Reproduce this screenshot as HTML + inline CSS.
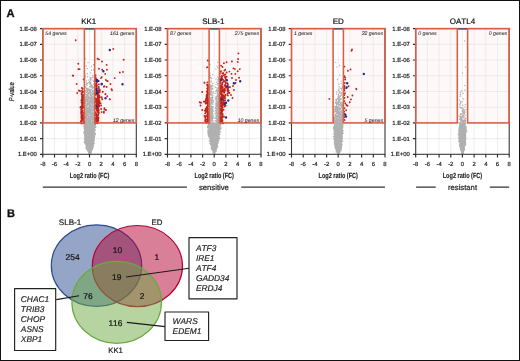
<!DOCTYPE html>
<html><head><meta charset="utf-8"><style>
html,body{margin:0;padding:0;background:#fff;}
body{width:520px;height:361px;overflow:hidden;}
svg{display:block;font-family:"Liberation Sans", sans-serif;will-change:transform;text-rendering:geometricPrecision;font-kerning:none;}
</style></head><body>
<svg width="520" height="361" viewBox="0 0 520 361">
<rect x="0" y="0" width="520" height="361" fill="#fff"/>
<defs></defs>
<rect x="42.8" y="28.6" width="41.6" height="94.3" fill="#fef9f8"/>
<rect x="94.7" y="28.6" width="41.6" height="94.3" fill="#fef9f8"/>
<path d="M54.5 28.6V154.3M66.2 28.6V154.3M77.9 28.6V154.3M89.5 28.6V154.3M101.2 28.6V154.3M112.9 28.6V154.3M124.6 28.6V154.3M42.8 138.6H136.3M42.8 122.9H136.3M42.8 107.2H136.3M42.8 91.5H136.3M42.8 75.7H136.3M42.8 60H136.3M42.8 44.3H136.3" stroke="#e6e6e6" stroke-width="0.7" fill="none"/>
<path d="M83.8 122.9L83.9 123.9L84 124.9L84 125.9L84.1 126.9L84.2 127.9L84.2 128.9L84.3 129.9L84.3 130.9L84.4 131.9L84.5 132.9L84.5 133.9L84.6 134.9L84.7 135.9L84.7 136.9L84.8 137.9L84.8 138.9L84.9 139.9L85 140.9L85 141.9L85.2 142.9L85.4 143.9L85.6 144.9L85.8 145.9L86 146.9L86.2 147.9L86.6 148.9L86.9 149.9L87.3 150.9L87.6 151.9L88.3 152.9L88.8 153.5L90.3 153.5L90.8 152.9L91.5 151.9L91.8 150.9L92.2 149.9L92.5 148.9L92.9 147.9L93.1 146.9L93.3 145.9L93.5 144.9L93.7 143.9L93.9 142.9L94.1 141.9L94.1 140.9L94.2 139.9L94.3 138.9L94.3 137.9L94.4 136.9L94.4 135.9L94.5 134.9L94.6 133.9L94.6 132.9L94.7 131.9L94.8 130.9L94.8 129.9L94.9 128.9L94.9 127.9L95 126.9L95.1 125.9L95.1 124.9L95.2 123.9L95.3 122.9 Z" fill="#b0b0b0"/>
<path d="M90.2 123.5h0M89.2 123.3h0M90.5 123h0M89.7 123.3h0M92.9 123h0M87.3 123h0M93.1 123.4h0M84.3 123.6h0M94.9 123.4h0M90.9 123h0M89.9 123.6h0M86 123.8h0M84.2 123.9h0M88.9 124.2h0M89.8 124h0M89.5 124.1h0M89.1 123.8h0M95.2 124.3h0M93.4 124.1h0M87.5 123.8h0M87.2 123.6h0M88.4 124.9h0M88.3 125h0M93.5 124.3h0M86.3 124.9h0M89.2 125h0M88.4 124.4h0M91 124.8h0M87 124.4h0M87.7 125h0M92.5 124.4h0M85.1 125h0M92.9 125.1h0M90.2 125.3h0M86.1 125.5h0M85.4 125.5h0M85.3 125.3h0M86.3 125.2h0M94.8 125.6h0M87.4 125.6h0M86.3 125.3h0M91.1 125.8h0M95 125.8h0M86.9 126.2h0M87.7 125.9h0M84.8 125.8h0M90.5 125.9h0M90.7 126h0M89 126.4h0M89.4 126.1h0M93.6 125.8h0M94 127h0M86.8 126.5h0M92.2 127.1h0M86.2 127.1h0M93.7 126.8h0M88.7 126.5h0M84.5 127.1h0M86.7 126.9h0M86.9 127h0M90.6 126.6h0M91.9 127.1h0M86.6 127.5h0M93.4 127.5h0M87.2 127.7h0M86.3 127.1h0M87 127.4h0M84.8 127.2h0M88.1 127.5h0M85.5 127.4h0M93.8 127.8h0M91.6 128.2h0M85.7 127.8h0M84.3 128.4h0M91.7 128.5h0M84.4 128.2h0M89.4 128.3h0M87.6 128.5h0M85 128.2h0M92.1 128.4h0M92.1 128.3h0M94 128.7h0M91.5 129.1h0M93.5 128.8h0M92.7 129.1h0M90.3 128.9h0M88.3 128.9h0M90.7 128.6h0M91 129.2h0M93.6 129h0M92 129.6h0M88.9 129.8h0M85.1 129.7h0M84.6 129.6h0M89.3 129.4h0M91.7 129.5h0M90.8 129.8h0M87 129.2h0M87.4 129.7h0M86.4 129.3h0M91.2 130.2h0M93.7 130.1h0M91.3 130h0M88.8 130.5h0M93.9 130.5h0M88.3 130.3h0M87.6 130h0M89.5 130.5h0M93.2 130.4h0M87.2 130.7h0M89 130.8h0M86.6 130.9h0M90.9 130.9h0M87.6 131.2h0M94.6 130.9h0M85.1 130.6h0M93.4 130.6h0M91.7 131h0M92.6 131.3h0M85.8 131.6h0M84.6 131.9h0M86.8 131.4h0M84.9 131.7h0M89 131.7h0M91.2 131.9h0M94.3 131.8h0M86.4 131.6h0M86.2 131.3h0M91.7 132.1h0M87.2 132.2h0M91.6 132.4h0M90.7 132.5h0M88.5 132.6h0M93.7 132.1h0M94 132.5h0M85.8 132.3h0M90.8 132.6h0M90.3 133.3h0M92.6 133.4h0M89.2 133.2h0M86.5 133.2h0M92.8 133.1h0M91.8 132.8h0M93.6 133.4h0M94.4 133.1h0M92.5 132.9h0M93.1 133.6h0M85.3 133.7h0M90.1 133.9h0M89.4 133.4h0M92.7 133.4h0M92.6 133.5h0M87.9 134h0M85.9 133.5h0M89.7 133.9h0M91.4 134.8h0M89.5 134.8h0M85.4 134.3h0M89.8 134.3h0M91.8 134.5h0M89.8 134.7h0M90.1 134.3h0M88.4 134.7h0M93.6 134.2h0M94.2 135.2h0M90.3 134.9h0M89.9 135.2h0M90.6 134.8h0M94.2 135.2h0M88.6 135.4h0M90.2 135.1h0M91.4 134.8h0M89.9 135.1h0M93.7 135.7h0M89.3 135.6h0M88.9 136.1h0M93.5 135.8h0M87.8 135.6h0M90.7 136.1h0M85.9 136h0M84.9 135.6h0M91.4 136.4h0M88.1 136.6h0M85.7 136.7h0M85.9 136.6h0M87.1 136.3h0M89.8 136.5h0M88.3 136.5h0M89.8 136.3h0M86.7 136.6h0M89.8 137.5h0M90.6 137.5h0M87 137.4h0M92.5 137.5h0M87.8 137.1h0M93.6 137.1h0M94.4 137.5h0M86 137.1h0M91.7 137.1h0M92.7 137.9h0M92.3 137.7h0M88.6 138.1h0M84.9 137.7h0M91.3 138.2h0M94 137.7h0M89.6 138.1h0M89.6 138.1h0M86.6 137.6h0M85.2 138.7h0M89.7 138.7h0M86.2 138.4h0M86.7 138.9h0M94.2 138.9h0M85.7 138.3h0M93.8 138.6h0M92.1 138.5h0M89.2 138.7h0M90.5 139h0M91.4 139.6h0M86.6 139.3h0M91.8 139.3h0M86.7 139.1h0M89.7 139h0M93.2 139.6h0M91.5 139.6h0M90.8 139.3h0M89.6 140.4h0M92.4 139.9h0M93.4 140.2h0M92.1 140.3h0M88.7 140.3h0M93.1 140.2h0M92 140.2h0M88.7 140.2h0M88.1 140.7h0M85 140.6h0M90.8 140.8h0M87.1 141.1h0M91.1 140.6h0M91 140.8h0M89.9 140.7h0M94.2 140.8h0M91.4 140.9h0M85.2 141.5h0M91.7 141.3h0M88.7 141.1h0M86.8 141.4h0M85.9 141.3h0M93.3 141.5h0M89.6 141.8h0M90.2 141.8h0M92.4 141.9h0M90.4 142.3h0M85.4 142.5h0M86.5 142.1h0M86.6 142.1h0M90.6 141.8h0M93.6 142.1h0M89.8 142.2h0M87.7 143h0M90.1 142.7h0M91.5 142.7h0M85.3 142.7h0M85.5 142.6h0M91.8 142.8h0M93.1 143h0M85.6 143.2h0M85.9 143.8h0M88.9 143.5h0M93.6 143.4h0M89.7 143.9h0M91.5 143.5h0M93.6 143.8h0M90.4 143.3h0M89.2 144h0M85.8 144.3h0M86.4 144.2h0M90.9 144.2h0M87.6 144.3h0M88.9 144.4h0M89.8 144.6h0M91.4 144.8h0M86.5 145.2h0M91.8 145h0M88.4 144.8h0M91 145h0M90.3 145h0M91.6 144.7h0M93.3 145.9h0M92.5 145.3h0M86.2 145.5h0M89 145.7h0M86.5 145.7h0M86.2 145.4h0M90.9 145.7h0M88.6 146.3h0M87.4 146.2h0M91.4 146.6h0M86.4 146.1h0M91.9 146.4h0M91.6 146.1h0M89 146.2h0M88.6 147.2h0M93.1 146.9h0M89.9 147.2h0M92.6 147h0M88.6 146.8h0M92.2 146.8h0M90 147.7h0M90.8 147.6h0M91.4 147.5h0M87.6 147.9h0M86.7 147.6h0M91.1 147.9h0M88.1 147.5h0M91 148.4h0M87 148.6h0M90 148.7h0M92.4 148.7h0M89.1 148.7h0M88.3 148.3h0M92.2 149.4h0M88 149.1h0M88.7 149.1h0M88.9 149.1h0M87.7 149.2h0M91.4 149.2h0M89.9 149.6h0M91 150.1h0M88.3 149.5h0M89.6 149.9h0M89.9 150.2h0M91.1 150.2h0M89.8 150.8h0M87.4 150.3h0M90.7 150.8h0M90.2 151h0M90.7 151.4h0M88.4 151.1h0M90.8 151.3h0M90.8 151.2h0M91.4 152.1h0M89.5 152h0M90.4 152.1h0M91.2 151.9h0M90.1 152.9h0M90.6 152.9h0M90.8 153h0M89.6 153.5h0M90.2 153.3h0M89.1 154.2h0M87.9 123h0M85.6 123.2h0M86.8 123.6h0M83.6 123.1h0M84.4 123.4h0M85.3 123.6h0M89 124h0M95 123.6h0M84.3 123.7h0M85.8 123.8h0M90.8 124.5h0M85.4 124.5h0M85.2 124.8h0M87.1 124.7h0M93.7 124.6h0M94.6 125.6h0M87.5 125.4h0M95.5 125.3h0M85.9 125h0M95.4 125.6h0M88 125.4h0M86.6 126.4h0M91.6 125.9h0M83.2 126h0M87.9 126.3h0M92.3 126.1h0M85.1 126.6h0M86.4 127h0M89.8 126.8h0M95.9 126.6h0M90 126.5h0M93 126.4h0M94 127.7h0M84.2 127.3h0M92.3 127.2h0M89.3 127.4h0M95.4 127.5h0M87.1 128.4h0M88.5 128.4h0M84.4 128.4h0M85.9 128.2h0M89.9 127.9h0M87.2 128.7h0M84.2 128.7h0M89.1 129h0M87.8 129h0M84.6 128.8h0M95.4 129.8h0M91.5 129.2h0M88 129.7h0M86.3 129.6h0M89 129.2h0M93.3 130h0M91 130.1h0M88 130.3h0M87.1 130.1h0M88.2 130.4h0M85.9 131.1h0M87.5 131.3h0M90.3 131.1h0M87.5 131.2h0M84.6 130.7h0M91.7 131.8h0M85.7 131.6h0M93.6 131.7h0M84.6 131.5h0M85.4 131.4h0M88.4 131.4h0M88.7 132.4h0M91.3 132.5h0M93.4 132.3h0M87.5 132.3h0M83.7 132.3h0M95.3 133.3h0M91.5 133.1h0M83.8 132.9h0M87.7 133.2h0M84.8 133h0M93 134h0M90.9 133.5h0M92.7 134h0M90.1 133.6h0M89.6 133.5h0M95.3 134.5h0M92.1 134.7h0M86 134.8h0M91 134.2h0M84.7 134.3h0M91.8 135h0M94.5 135.1h0M89.1 134.9h0M95.1 134.9h0M94.2 135.2h0M90.2 135.7h0M94.3 136.2h0M93.2 135.9h0M85.2 136.1h0M87.1 136.1h0M90.4 136.8h0M86 136.6h0M84.7 136.2h0M85.9 136.9h0M94.6 136.7h0M91.5 137.4h0M88.2 137.3h0M93 136.9h0M86.1 137.2h0M85.5 137.2h0M85.9 138h0M86.9 138h0M87.7 138h0M84.4 138.1h0M85.6 138.3h0M89.2 138.6h0M90.9 138.8h0M92.4 138.8h0M89.4 139h0M93.3 138.9h0M88.8 139.4h0M94 139.4h0M89.8 139.3h0M94 139.2h0M84.6 139.5h0M92.1 140.1h0M92.3 139.9h0M90.6 139.7h0M85.4 140h0M88.4 140.4h0M91.7 140.8h0M86.7 140.6h0M88.4 140.6h0M84.9 141h0M91.3 141.7h0M88.7 141.7h0M86.6 141.6h0M90.3 141.7h0M92.7 141.9h0M89.9 142.5h0M84.2 142h0M87.4 142h0M84.9 142.4h0M88.5 142.7h0M90.4 142.5h0M84.7 143.1h0M87.6 142.8h0M94.3 143.5h0M86.6 143.4h0M93.8 143.8h0M86.5 143.8h0M89.3 144h0M93.2 144.6h0M86.7 144.3h0M86.6 144.5h0M85.9 145.1h0M87.8 145.2h0M93 145.1h0M86.1 145.1h0M89.1 145.4h0M87 145.5h0M91.5 145.4h0M87.2 146.5h0M92.1 146.3h0M91 146.6h0M90.3 146.2h0M93.1 147.2h0M87.7 147.1h0M86.1 147.4h0M89 147.1h0M85.9 147.8h0M87.8 147.6h0M92 147.5h0M91.5 148.3h0M87.8 148.5h0M87.1 148.7h0M86.2 149.1h0M91.3 149.1h0M92.6 149.1h0M89.9 150h0M88.6 150h0M91.4 149.9h0M91.6 150.7h0M89.7 150.9h0M91 151h0M90.1 151.1h0M89.2 151.4h0M90.9 151.8h0M89.5 151.8h0M89.5 152.3h0M89.9 152.8h0M90.5 153.1h0M88.9 154h0M85.3 58.6h0M88.1 62.6h0M93.4 64.8h0M86.3 66h0M91.5 66.4h0M87.3 68.6h0M87.4 68.6h0M93.7 69.7h0M91.5 70.2h0M90.6 73h0M87.4 73.7h0M85 74.2h0M92.6 75.3h0M85.5 76.5h0M87.7 76.9h0M93.2 76.9h0M92.1 77.6h0M90.5 77.6h0M84.9 78.9h0M90.5 78.3h0M91.2 79h0M90.4 79.3h0M92.9 80.1h0M88.8 80.1h0M86.2 80.6h0M91 80.7h0M93.7 81.2h0M89.8 81.6h0M89.7 81.9h0M89.7 81.7h0M88.9 82.4h0M86.2 82.3h0M90.5 82.8h0M87.8 83.2h0M90.9 83.2h0M89.7 83.5h0M86.9 83.8h0M86.4 84h0M86.3 84.6h0M93.6 84.3h0M90 84.1h0M91.3 85h0M90.9 84.9h0M91.8 85.1h0M90.7 84.9h0M91.5 85.1h0M87 85.4h0M91.4 85.5h0M91.4 85.8h0M92.3 85.7h0M89.7 86.9h0M92.2 86.7h0M90.4 86.7h0M94 86.7h0M85.2 86.7h0M91.5 87.2h0M85.7 87.3h0M93.8 87.1h0M91.9 87.3h0M94.1 87.2h0M92.7 87.8h0M92.1 88h0M87.3 88.2h0M86.6 88.5h0M94.1 88.1h0M88.1 89.2h0M86.4 89.3h0M88.8 89h0M92.2 88.8h0M86.1 88.8h0M91.1 89.8h0M90.1 89.5h0M89.1 89.5h0M87.5 89.8h0M88.8 90.1h0M89.8 89.8h0M87.7 90.4h0M92.9 90.5h0M86 90.9h0M92.2 90.8h0M86.7 90.8h0M90.1 90.7h0M90.4 91.5h0M85.2 91.1h0M92.7 91.5h0M87.7 91.8h0M89.3 91.1h0M89.7 91.6h0M94.2 91.3h0M92.1 92.1h0M88.1 92.5h0M90.9 92.3h0M86 92.1h0M86.3 92.4h0M90.2 91.9h0M93.9 92.2h0M90.1 91.8h0M88.9 92.8h0M90.6 92.9h0M90.8 92.7h0M93.7 92.7h0M90.4 93.4h0M88.6 93h0M87.6 92.9h0M89.3 93.1h0M88.3 94.1h0M94.2 94.1h0M92.9 93.4h0M90.3 93.5h0M87.9 93.6h0M91.9 93.6h0M94 93.8h0M85.8 94h0M85.8 94.8h0M94.1 95h0M87.7 94.4h0M93.8 94.7h0M90.6 94.5h0M86.5 94.5h0M92.5 94.4h0M93.8 94.3h0M88 94.4h0M87 95.1h0M90 95.3h0M91.6 95.4h0M91.4 95.4h0M94 95.7h0M88.1 95.1h0M94.1 95.8h0M90.6 95.6h0M90.4 95.5h0M91 96.1h0M94.2 96.3h0M87.8 96h0M86.7 96.5h0M86.6 96.3h0M89 96.4h0M87.4 96.1h0M91.3 96.3h0M86.9 95.8h0M92.5 96.3h0M93.9 97h0M84.9 96.9h0M86.1 96.9h0M93.6 97.4h0M91.8 97.3h0M86.5 97.3h0M85.8 97.4h0M89.2 97.2h0M88.4 97h0M87.1 96.8h0M88.2 96.7h0M93.2 97.6h0M85.8 98h0M87 98h0M90.3 97.5h0M89.7 98.1h0M93.4 97.5h0M87.7 97.9h0M93.7 98.2h0M88.6 98.1h0M92.9 97.9h0M91.6 97.7h0M92.5 98.7h0M92.8 98.3h0M92.8 98.3h0M89 98.7h0M91.2 99h0M86.3 98.5h0M91 98.3h0M92.5 98.9h0M91.5 98.6h0M93.9 98.8h0M88.5 98.4h0M93.6 98.9h0M87.4 99.3h0M86.1 99.4h0M89.8 99.2h0M87.5 99.2h0M86.3 99.2h0M91.5 99.7h0M90.7 99.3h0M85.7 99.5h0M92.1 99.7h0M90 99.3h0M86.2 99.3h0M94 100.3h0M91.7 100.2h0M88.1 100.3h0M85 100.6h0M87.7 100.3h0M86.3 99.9h0M91.7 100.3h0M88.5 100h0M91.3 100.1h0M93 99.9h0M86.5 100.4h0M85.8 101.2h0M90.1 100.6h0M85.6 101.3h0M89.7 101h0M92 101.2h0M88.1 100.7h0M92.2 100.7h0M91.9 101.2h0M90.7 100.6h0M90.6 101h0M87.4 100.7h0M93.5 101.4h0M87.7 102.1h0M94 101.4h0M88.8 102h0M92.9 101.8h0M89.7 101.6h0M85.1 102.1h0M89.8 101.5h0M90.8 102.1h0M91.1 101.9h0M85.4 101.9h0M87.2 101.7h0M88.2 101.6h0M91.5 102.5h0M91.6 102.2h0M93.4 102.6h0M92.1 102.4h0M90 102.5h0M91.8 102.8h0M91.8 102.5h0M94 102.7h0M94 102.7h0M91.3 102.7h0M92.3 102.6h0M87.1 102.2h0M90.7 103.6h0M87.6 103.3h0M88.2 103.1h0M85 103.3h0M88.1 103.6h0M92.5 103.6h0M89.3 103.4h0M85.2 103h0M85.2 103.5h0M89.5 103.3h0M86.4 103.7h0M89.2 103.4h0M93 103.4h0M90.1 104.4h0M89.9 104.5h0M86.5 103.9h0M90.1 104.6h0M86.9 104h0M87.6 104.5h0M89 104.2h0M89.7 104.1h0M86.4 104.2h0M92.8 104.4h0M89.1 103.9h0M92.3 104.1h0M90.3 104.3h0M87.7 105.3h0M87.9 105h0M94.1 105.2h0M90.6 105.2h0M92.2 104.7h0M93.4 105.2h0M87.5 105h0M85 105h0M91.8 105.2h0M90 105.3h0M89.4 105.1h0M92.1 104.7h0M85.1 105.2h0M93.2 105.6h0M87.1 105.5h0M86 106.1h0M85.3 105.7h0M85.1 105.6h0M85.6 105.6h0M90.7 105.8h0M90.7 105.6h0M90.2 105.6h0M90.9 105.8h0M93.6 106.1h0M85.6 105.8h0M86.1 105.9h0M93.2 106.2h0M93.9 106.8h0M90.6 106.5h0M86.2 106.6h0M92.2 106.4h0M94 107h0M92.6 106.9h0M89.1 106.3h0M94.1 106.9h0M89.3 106.3h0M89.4 107h0M86.4 106.8h0M92 106.6h0M92 107.4h0M88.6 107.3h0M91.8 107.4h0M87 107.4h0M90.2 107.3h0M86.3 107.8h0M85.1 107.7h0M93.9 107.4h0M86.8 107.5h0M86.7 107.1h0M87.1 107h0M89 107.8h0M89.7 107.7h0M86.3 107.5h0M93.3 107.9h0M85.9 108.5h0M91.4 108.1h0M89.5 108h0M86.8 108.1h0M92.7 108h0M93.7 107.9h0M90.7 108.4h0M91.1 108.3h0M88.3 108h0M93.6 108h0M91 108.4h0M86.4 108.2h0M93.1 108.8h0M87.6 108.9h0M87.9 109.4h0M91.4 109.2h0M93.2 109.2h0M91.3 109.1h0M93 109.3h0M89.6 108.9h0M89.2 108.7h0M88.6 109.4h0M93.9 109.3h0M88.9 109.4h0M90.4 109.1h0M85.4 109.4h0M91.3 109.6h0M93.9 109.5h0M91.2 109.6h0M90.4 109.8h0M87 110h0M87.1 109.5h0M90.6 109.6h0M86 109.8h0M90.3 109.9h0M88.2 110.2h0M87.4 110.1h0M91.7 110.2h0M94.1 110h0M91.4 109.5h0M93 110.2h0M88.5 110.6h0M92.6 110.3h0M89.6 110.2h0M88.3 110.5h0M87.4 110.5h0M87.9 110.7h0M87.6 110.6h0M88 110.4h0M85.2 110.9h0M88.8 111h0M90.9 110.8h0M88.5 110.3h0M94 110.3h0M92.7 110.6h0M85.3 111.3h0M89.6 111.2h0M86.9 111.4h0M90 111.4h0M86.6 111.2h0M91.6 111.6h0M88.5 111.6h0M88.4 111.4h0M87.6 111.8h0M91.8 111.2h0M85.6 111.3h0M90.5 111.7h0M85.8 111.7h0M86.4 111.6h0M93.3 112.5h0M91 112.5h0M89.4 112.1h0M85.9 112.5h0M85.2 111.9h0M92.7 112.6h0M93.6 111.9h0M86.3 112.6h0M92.4 112.4h0M89.3 112.4h0M85.9 112.3h0M85.2 112.2h0M91.3 111.8h0M88.8 112h0M85.9 113h0M91 112.7h0M86.5 113.4h0M88 113.3h0M88.2 113.1h0M85.1 112.9h0M88.3 113h0M89.4 113h0M87.4 112.8h0M88.6 112.8h0M91.1 112.6h0M87.9 113.4h0M92.5 112.9h0M90.6 113.4h0M90.1 113.1h0M87 114.2h0M93.7 113.8h0M84.9 113.6h0M93.1 113.5h0M92.1 114h0M92.9 114h0M86.5 113.8h0M91.6 113.8h0M85.1 113.4h0M89.9 114h0M91.6 113.7h0M86.9 113.7h0M86.5 113.9h0M89.3 113.5h0M89.8 113.4h0M91.4 114.3h0M85.1 114.6h0M92.3 115h0M90.1 114.4h0M85.5 114.5h0M87.7 114.4h0M85.9 114.6h0M91.3 114.6h0M88.1 114.5h0M88.1 114.6h0M87.3 114.6h0M87.8 115h0M93.2 114.7h0M93 114.8h0M85.1 114.7h0M87.5 114.4h0M87 115.3h0M92.9 115.3h0M93.1 115.5h0M90.6 115.8h0M88.6 115h0M86.8 115.7h0M87.7 115.6h0M86 115.5h0M88.4 115.4h0M87 115.1h0M93.2 115.6h0M94 115.5h0M92 115.1h0M86.6 115.5h0M88.2 115.3h0M92.4 116.2h0M84.9 116.6h0M87.9 115.9h0M88.2 116.4h0M93.4 116h0M87.9 115.8h0M87.8 115.9h0M88.1 116.5h0M90.7 115.9h0M89.2 116.4h0M90.8 116.4h0M89.4 116.5h0M88.6 116.4h0M88 116h0M91.8 116.2h0M85.8 116.3h0M90.6 117.1h0M88.9 116.9h0M91.6 117.3h0M85.3 116.7h0M87.9 116.8h0M85.4 116.8h0M91.2 117.2h0M89.3 116.7h0M85.6 117.1h0M90 116.9h0M85 117.3h0M89.8 116.6h0M92.8 116.8h0M86.4 116.9h0M91.7 117h0M91.2 117.6h0M90.8 117.6h0M92.3 117.5h0M93.5 117.8h0M88.1 118h0M86.7 118h0M91.9 117.7h0M91.9 117.8h0M87.1 118.1h0M90.6 117.6h0M89.4 117.9h0M90.9 118.1h0M85.7 118h0M93 117.7h0M87 118.2h0M85.3 117.5h0M85 118.6h0M88.1 118.6h0M94.2 119h0M89.6 118.5h0M92.5 118.6h0M93.9 118.8h0M86.8 118.3h0M87.4 118.7h0M90.6 118.6h0M88 118.7h0M89.6 118.7h0M90.5 118.8h0M88 118.6h0M89.1 118.4h0M85.8 118.8h0M89.8 118.8h0M90.5 119.1h0M87.3 119.3h0M88.3 119.1h0M86.6 119.7h0M89.3 119.3h0M93.4 119.6h0M90.4 119.8h0M90.7 119.7h0M92.7 119.1h0M90.7 119.7h0M86.3 119.5h0M92.5 119.6h0M91.8 119.4h0M87.8 119h0M89.4 119.3h0M91.1 119.5h0M93.8 119.4h0M86 120h0M88.7 119.9h0M93.6 120h0M87.4 120.3h0M86.1 120.4h0M89.3 119.9h0M90.3 119.8h0M93.6 119.9h0M89.3 120.3h0M93.8 119.9h0M90.9 119.9h0M88.6 119.9h0M88.8 120.1h0M88.9 120.2h0M91.4 119.8h0M92.4 120.1h0M85.4 120.9h0M87 120.7h0M87.8 120.9h0M86.3 120.6h0M90.9 121.2h0M85.9 121.3h0M90.4 121.3h0M93.1 121.4h0M86.1 120.9h0M86.7 121.3h0M86.9 121.4h0M85.6 121.4h0M90.2 121.1h0M88.9 120.6h0M92.5 120.9h0M92.4 121h0M85.6 120.8h0M92.8 122.1h0M88.6 121.7h0M89.6 121.4h0M91.1 122.2h0M92.5 122h0M90.6 122h0M85.6 121.7h0M91 121.7h0M93 121.9h0M88.8 122.2h0M88.6 121.5h0M89.7 121.5h0M86.2 121.9h0M94.1 121.5h0M89.7 122.1h0M86.4 122.1h0M91.3 121.9h0M90.6 122.3h0M89.3 122.3h0M86.7 122.5h0M89 122.8h0M85.4 122.7h0M85.5 123h0M88.2 122.7h0M91.7 122.6h0M88.3 122.6h0M91.9 122.3h0M86.7 123h0M93.2 122.6h0M87.2 122.5h0M93.8 122.5h0M91.8 123h0M89.8 122.3h0M92.7 122.3h0" stroke="#b0b0b0" stroke-width="1.4" stroke-linecap="round" fill="none"/>
<path d="M82.7 88.7h0M82 90.7h0M82.1 90.9h0M83.4 91.7h0M82.1 92.8h0M81.6 93.9h0M81.7 94.6h0M81.6 94h0M82.5 95.5h0M83.3 95h0M82.8 96h0M82 96.3h0M82.9 96.5h0M83.7 97.2h0M82 97.8h0M83.6 97.8h0M82.5 98.1h0M82.7 98.8h0M81.8 99.2h0M82 98.9h0M83.2 99.9h0M82.3 100.2h0M82.4 100.5h0M81.4 100.5h0M82.5 101.7h0M82.1 101.5h0M83.8 102.5h0M81.5 102.6h0M82.8 103.4h0M82.8 103.5h0M82.2 104.1h0M82.1 103.9h0M82.9 104.7h0M82.1 105.1h0M83 105.9h0M82.2 105.7h0M81.9 106.1h0M83.3 106.7h0M82.1 106.9h0M81.4 107.3h0M81.3 107.8h0M83.2 107.8h0M82 108.8h0M81.6 108.6h0M81.8 109.8h0M81.1 109.7h0M81.9 110.2h0M81.3 110.1h0M82.7 110.8h0M82.3 111.3h0M81.1 111.9h0M82 112.4h0M83.7 113.1h0M82.6 112.5h0M81.2 113.6h0M81.2 113.3h0M81.4 114.8h0M82.6 114.7h0M83.2 115.3h0M82.3 115.4h0M81.4 116h0M82.1 116h0M83 116.9h0M83.3 117.1h0M81.3 117.2h0M81.4 118h0M81.8 117.6h0M82.6 118.2h0M83.2 118.3h0M83.4 118.6h0M82.5 118.9h0M83.5 118.9h0M81.7 119.4h0M82.9 119.9h0M82.4 119.8h0M82.3 119.8h0M81.2 120.5h0M81.4 120.8h0M80.8 122h0M83.4 121.5h0M81.3 121.9h0M81.4 122.6h0M83.3 122.7h0M81.2 122.9h0M81.5 123.5h0M83.6 123.2h0M95.9 78.2h0M96.6 81.6h0M96.8 82.5h0M96.4 83.3h0M95.4 83.9h0M96.6 83.6h0M97 85.2h0M98.8 84.4h0M96.9 85.4h0M95.8 85.7h0M96.9 86.1h0M95.7 86h0M96.3 87.4h0M98.8 86.9h0M96.7 88.2h0M98.6 87.8h0M96.9 88.8h0M98.9 88.6h0M99.5 89.7h0M99.7 90h0M99.9 90.2h0M99 90.1h0M96.6 90.4h0M98.5 91h0M99.5 91.5h0M97.6 90.8h0M96.6 91.9h0M99.8 92.1h0M99.2 91.7h0M98.8 92.7h0M96.3 92.5h0M95.4 92.7h0M97.9 92.7h0M96.6 93.2h0M98.5 93.5h0M97.6 93.5h0M95.5 94.2h0M96.7 94.1h0M95.3 94.4h0M95.3 94.7h0M97.4 95.2h0M95.3 94.9h0M99.1 95.2h0M97.7 95.1h0M97.7 96.2h0M99.3 96.3h0M98.8 96.1h0M97.5 96h0M97.8 97.1h0M99.4 96.4h0M98.9 96.9h0M98.1 97.1h0M97.5 97.5h0M99.8 97.3h0M97.9 97.3h0M98.8 97.6h0M96.7 98.7h0M95.2 98.2h0M98.7 98.7h0M98.9 98.2h0M98.5 99.4h0M95.5 99.5h0M97.7 98.8h0M97.4 99.1h0M99.3 100.3h0M95.8 100h0M96.5 100.1h0M95.7 99.9h0M97.3 100.7h0M97.9 101.2h0M99.4 101.1h0M99 100.6h0M97.3 101.7h0M97.9 101.5h0M99.6 101.4h0M95.3 101.3h0M98.4 102.7h0M95.4 102.2h0M96.3 102.6h0M99.1 102.2h0M99.4 103.6h0M98.3 103.2h0M98.4 103.4h0M97.4 103h0M98 103.9h0M97.9 103.7h0M99.3 103.8h0M96.2 104.4h0M99.1 105.1h0M98.8 105.1h0M97.6 104.5h0M98.6 105.9h0M95.4 105.2h0M98.2 105.6h0M99.2 106.4h0M97.9 106.5h0M98 106.3h0M95.5 107.5h0M98.1 107.4h0M97 107h0M97.9 108h0M95.6 107.6h0M96.8 107.8h0M96.1 108.7h0M97.9 109.1h0M97.8 108.4h0M98.5 108.9h0M97.5 109.5h0M96.5 109.3h0M97.7 109.2h0M98.6 110.5h0M97.4 110.6h0M98.8 110.7h0M96.9 110.8h0M97.5 111.3h0M98.4 111.3h0M95.2 112.3h0M97.5 112.4h0M97.4 112.3h0M98.8 112.8h0M98.4 112.7h0M95.2 112.7h0M98.7 113.5h0M96.2 113.8h0M95.5 113.4h0M95.6 114.5h0M96.7 114.6h0M96.4 114.8h0M97 115h0M95.2 115h0M98.3 115h0M97 115.8h0M97 115.7h0M96.4 115.8h0M97.8 117h0M97.2 117.1h0M97.7 116.4h0M97.7 117.9h0M98.5 117.8h0M95.7 117.7h0M97.2 118.1h0M98.4 118.4h0M96.1 118.8h0M95.4 119.3h0M96.1 119h0M96.2 119.3h0M97.4 120.3h0M98.4 120.3h0M98.2 119.8h0M95.5 120.9h0M95.4 120.5h0M98.3 120.5h0M96.9 121.2h0M97.7 121.2h0M98 121.9h0M96.6 122h0M97.4 122h0M96.9 122.7h0M95.6 123.4h0M97.4 123.1h0M97.6 123.3h0M75.7 40.3h0M78.3 63.8h0M78.3 69.1h0M79.6 69.1h0M72.7 75.5h0M76.6 83.9h0M83.6 79.4h0M78.8 90.5h0M80 91h0M77.2 93h0M80.7 107h0M80.4 107.5h0M73.2 75.8h0M81.6 93h0M81.8 88h0M113.3 48.9h0M97.6 58.7h0M99 59.4h0M102 61.5h0M123.7 59.7h0M106.6 64.9h0M99 68.7h0M102.2 69.8h0M106.9 69.8h0M105.2 73.9h0M119.8 72.5h0M123 71.9h0M95.5 75.3h0M101.8 77.1h0M101 78.1h0M114.7 78.1h0M105.9 79.9h0M107.3 80.9h0M95.5 77h0M95.6 79h0M95.4 81h0M110.5 84h0M103.9 86.8h0M106.6 87.1h0M111.5 89.2h0M106.6 80.6h0M107.8 81.1h0M110.5 83.9h0M103.9 86.4h0M112 90.2h0M102.8 91.6h0M105.3 94.2h0M107.2 96.4h0M101.7 97.2h0M102.2 99.4h0M110 99.4h0M100.6 103.3h0M101.1 105.5h0M104.4 109h0M105.5 110.1h0M101.1 109h0M101.7 112.1h0M103.9 112.7h0M104.4 108.3h0M106 110h0M103.9 111.6h0M102.7 91.9h0M105.5 93.9h0M107.2 96.1h0M109.7 99.2h0M102.2 98.9h0M104.4 86.3h0M106.6 87h0" stroke="#c0221c" stroke-width="1.9" stroke-linecap="round" fill="none"/>
<path d="M109.8 50h0M103.4 71.2h0M96.9 79.9h0M98.3 80.9h0M101.8 84h0M122.5 84.3h0M96.2 89.2h0M96.6 90.5h0M97.1 93h0M105.5 98.3h0M96.6 106.2h0M101.6 84.2h0M96.6 81.1h0" stroke="#1f2d8f" stroke-width="2.4" stroke-linecap="round" fill="none"/>
<rect x="42.8" y="28.6" width="93.5" height="125.7" fill="none" stroke="#3a3a3a" stroke-width="1.1"/>
<path d="M40 154.3H42.8M40 138.6H42.8M40 122.9H42.8M40 107.2H42.8M40 91.5H42.8M40 75.7H42.8M40 60H42.8M40 44.3H42.8M40 28.6H42.8M42.8 154.3V157.5M54.5 154.3V157.5M66.2 154.3V157.5M77.9 154.3V157.5M89.5 154.3V157.5M101.2 154.3V157.5M112.9 154.3V157.5M124.6 154.3V157.5M136.3 154.3V157.5" stroke="#2a2a2a" stroke-width="1.15" fill="none"/>
<rect x="42.8" y="28.6" width="41.6" height="94.3" fill="none" stroke="#da5d44" stroke-width="1.55"/>
<rect x="94.7" y="28.6" width="41.6" height="94.3" fill="none" stroke="#da5d44" stroke-width="1.55"/>
<path d="M85.1 28.8H94" stroke="#5c5c5c" stroke-width="1.8"/>
<text x="36.80" y="156.40" font-size="5.9" fill="#222" text-anchor="end" stroke="#222" stroke-width="0.20" stroke-linejoin="round">1.E+00</text>
<text x="36.80" y="140.69" font-size="5.9" fill="#222" text-anchor="end" stroke="#222" stroke-width="0.20" stroke-linejoin="round">1.E-01</text>
<text x="36.80" y="124.97" font-size="5.9" fill="#222" text-anchor="end" stroke="#222" stroke-width="0.20" stroke-linejoin="round">1.E-02</text>
<text x="36.80" y="109.26" font-size="5.9" fill="#222" text-anchor="end" stroke="#222" stroke-width="0.20" stroke-linejoin="round">1.E-03</text>
<text x="36.80" y="93.55" font-size="5.9" fill="#222" text-anchor="end" stroke="#222" stroke-width="0.20" stroke-linejoin="round">1.E-04</text>
<text x="36.80" y="77.84" font-size="5.9" fill="#222" text-anchor="end" stroke="#222" stroke-width="0.20" stroke-linejoin="round">1.E-05</text>
<text x="36.80" y="62.13" font-size="5.9" fill="#222" text-anchor="end" stroke="#222" stroke-width="0.20" stroke-linejoin="round">1.E-06</text>
<text x="36.80" y="46.41" font-size="5.9" fill="#222" text-anchor="end" stroke="#222" stroke-width="0.20" stroke-linejoin="round">1.E-07</text>
<text x="36.80" y="30.70" font-size="5.9" fill="#222" text-anchor="end" stroke="#222" stroke-width="0.20" stroke-linejoin="round">1.E-08</text>
<text x="42.80" y="165.90" font-size="5.9" fill="#222" text-anchor="middle" stroke="#222" stroke-width="0.20" stroke-linejoin="round">-8</text>
<text x="54.49" y="165.90" font-size="5.9" fill="#222" text-anchor="middle" stroke="#222" stroke-width="0.20" stroke-linejoin="round">-6</text>
<text x="66.17" y="165.90" font-size="5.9" fill="#222" text-anchor="middle" stroke="#222" stroke-width="0.20" stroke-linejoin="round">-4</text>
<text x="77.86" y="165.90" font-size="5.9" fill="#222" text-anchor="middle" stroke="#222" stroke-width="0.20" stroke-linejoin="round">-2</text>
<text x="89.55" y="165.90" font-size="5.9" fill="#222" text-anchor="middle" stroke="#222" stroke-width="0.20" stroke-linejoin="round">0</text>
<text x="101.24" y="165.90" font-size="5.9" fill="#222" text-anchor="middle" stroke="#222" stroke-width="0.20" stroke-linejoin="round">2</text>
<text x="112.92" y="165.90" font-size="5.9" fill="#222" text-anchor="middle" stroke="#222" stroke-width="0.20" stroke-linejoin="round">4</text>
<text x="124.61" y="165.90" font-size="5.9" fill="#222" text-anchor="middle" stroke="#222" stroke-width="0.20" stroke-linejoin="round">6</text>
<text x="136.30" y="165.90" font-size="5.9" fill="#222" text-anchor="middle" stroke="#222" stroke-width="0.20" stroke-linejoin="round">8</text>
<text transform="translate(89.55 177.60) scale(0.750 1)" font-size="7.4" fill="#1a1a1a" font-weight="bold" text-anchor="middle" stroke="#1a1a1a" stroke-width="0.12" stroke-linejoin="round">Log2 ratio (FC)</text>
<text x="88.75" y="23.50" font-size="8" fill="#111" text-anchor="middle" stroke="#111" stroke-width="0.20" stroke-linejoin="round">KK1</text>
<text x="45.30" y="35.00" font-size="5.2" fill="#333" font-style="italic" stroke="#333" stroke-width="0.08" stroke-linejoin="round">54 genes</text>
<text x="134.30" y="35.00" font-size="5.2" fill="#333" font-style="italic" text-anchor="end" stroke="#333" stroke-width="0.08" stroke-linejoin="round">161 genes</text>
<text x="134.30" y="121.58" font-size="5.2" fill="#333" font-style="italic" text-anchor="end" stroke="#333" stroke-width="0.08" stroke-linejoin="round">12 genes</text>
<rect x="167.5" y="28.6" width="41.6" height="94.3" fill="#fef9f8"/>
<rect x="219.4" y="28.6" width="41.6" height="94.3" fill="#fef9f8"/>
<path d="M179.2 28.6V154.3M190.9 28.6V154.3M202.6 28.6V154.3M214.2 28.6V154.3M225.9 28.6V154.3M237.6 28.6V154.3M249.3 28.6V154.3M167.5 138.6H261M167.5 122.9H261M167.5 107.2H261M167.5 91.5H261M167.5 75.7H261M167.5 60H261M167.5 44.3H261" stroke="#e6e6e6" stroke-width="0.7" fill="none"/>
<path d="M208.3 122.9L208.3 123.9L208.3 124.9L208.4 125.9L208.4 126.9L208.5 127.9L208.6 128.9L208.6 129.9L208.7 130.9L208.8 131.9L208.8 132.9L208.9 133.9L209 134.9L209.1 135.9L209.3 136.9L209.5 137.9L209.6 138.9L209.8 139.9L210 140.9L210.1 141.9L210.3 142.9L210.5 143.9L210.7 144.9L211 145.9L211.3 146.9L211.5 147.9L211.8 148.9L212.1 149.9L212.3 150.9L212.9 151.9L213.4 152.9L213.8 153.5L214.7 153.5L215.1 152.9L215.6 151.9L216.2 150.9L216.4 149.9L216.7 148.9L217 147.9L217.2 146.9L217.5 145.9L217.8 144.9L218 143.9L218.2 142.9L218.4 141.9L218.5 140.9L218.7 139.9L218.9 138.9L219 137.9L219.2 136.9L219.4 135.9L219.5 134.9L219.6 133.9L219.7 132.9L219.7 131.9L219.8 130.9L219.9 129.9L219.9 128.9L220 127.9L220.1 126.9L220.1 125.9L220.2 124.9L220.2 123.9L220.2 122.9 Z" fill="#b0b0b0"/>
<path d="M210 122.9h0M220.2 123h0M209.7 123.4h0M212.4 123.5h0M211.1 123.6h0M212.1 123.3h0M219.4 123.4h0M219.3 123.4h0M208.9 123.5h0M215.3 123.1h0M218.4 124h0M219.5 124.1h0M219.7 124h0M216.6 124h0M211.4 124.3h0M212 124.1h0M219.7 124.1h0M210 124.2h0M216.2 123.7h0M208.9 124h0M208.7 124.2h0M214.5 124.6h0M216.2 124.9h0M212 124.6h0M215.2 124.5h0M215.4 124.7h0M213.5 124.8h0M214.6 124.4h0M220.2 124.5h0M213.4 124.6h0M219.4 125h0M214.4 124.6h0M219 125.1h0M214.8 125.2h0M212.2 125.3h0M210.6 125h0M214.7 125.6h0M216 125.1h0M216.6 125h0M213.2 125.6h0M219.3 125.3h0M218.4 125.3h0M214.5 125.4h0M217.1 126h0M216.9 126.2h0M212.5 126.2h0M218 126.1h0M219.5 125.7h0M214.3 126.1h0M212.4 125.8h0M216.5 126h0M211.5 125.7h0M219.8 125.9h0M210.9 126.6h0M218.5 126.5h0M211.6 126.5h0M213.9 126.5h0M212.4 126.9h0M219.2 127h0M208.8 126.7h0M218.3 126.4h0M210.8 126.7h0M212.9 126.9h0M216.8 126.7h0M211.1 127.3h0M209.2 127.6h0M210.3 127.7h0M215.9 127.1h0M214.2 127.5h0M208.9 127.4h0M208.8 127.6h0M208.5 127.5h0M219.9 127.7h0M211.1 127.5h0M210.1 127.3h0M217.9 127.8h0M212.9 128.2h0M210.5 128.4h0M218.8 128.2h0M212.7 128.4h0M214.4 127.9h0M211.7 127.9h0M218.2 128.2h0M216.5 128.4h0M219.7 127.9h0M218.5 129h0M213 129h0M210.8 128.6h0M209.1 128.8h0M211.2 128.9h0M219.6 128.6h0M214.9 129.1h0M215.4 128.9h0M217.3 128.5h0M219.4 129h0M217.8 129.1h0M209.3 129.3h0M214.3 129.9h0M218.9 129.5h0M215.6 129.7h0M212.3 129.9h0M219.3 129.7h0M218.8 129.8h0M216 129.4h0M211.8 129.4h0M209.2 129.8h0M212 129.2h0M209.8 130.2h0M212.4 130h0M214 130.2h0M212.6 130.5h0M212.1 130.3h0M218.5 130.6h0M212.8 129.9h0M219.3 130.3h0M211.1 130h0M211.3 130.1h0M209.2 131.3h0M217.8 130.7h0M214 131.2h0M214.3 130.6h0M212.5 130.9h0M218.9 131h0M213.8 131h0M209.2 131.1h0M217.7 131.1h0M212.7 130.8h0M208.8 130.7h0M213.7 131.8h0M211.1 131.6h0M215.8 131.7h0M208.9 131.9h0M215.2 131.5h0M211.4 131.8h0M219 131.5h0M213.1 131.7h0M210.7 131.6h0M218.9 131.7h0M211.6 132.6h0M217.4 132.2h0M214.6 132.5h0M215 132.4h0M211.4 132.4h0M212.7 132.6h0M212.9 132.7h0M215.1 132.2h0M213.3 132.1h0M216.8 132h0M212.2 133.2h0M210.2 133.2h0M216.6 132.9h0M210.2 133h0M215.9 132.9h0M208.9 133h0M217.6 132.8h0M219 133.1h0M210.6 132.8h0M212.8 133h0M209.8 133.8h0M211.6 133.7h0M213.7 133.9h0M215.1 133.6h0M210.8 134h0M209.4 133.5h0M209.6 134h0M214.7 134h0M215.6 133.6h0M213.5 133.9h0M217.5 134.4h0M209.4 134.3h0M214.9 134.2h0M218.6 134.7h0M214.4 134.7h0M216.3 134.5h0M210.6 134.8h0M218.7 134.4h0M213 134.2h0M215.5 134.7h0M212 135.2h0M217.4 134.9h0M211.9 135.2h0M209.4 135.4h0M212.3 135.4h0M213.8 134.9h0M209.2 134.9h0M211.7 135.3h0M217.4 135.2h0M212.2 135.3h0M212.9 135.6h0M213.9 135.7h0M211 135.8h0M209.8 136.1h0M212 136.1h0M216.7 135.5h0M218.4 136.1h0M214.5 136.1h0M214 135.5h0M212.3 136.8h0M217.6 136.3h0M212.7 136.3h0M211.5 136.4h0M213.4 136.3h0M215.9 136.4h0M218.2 136.5h0M213.5 136.7h0M212.7 136.4h0M210.4 136.4h0M216.6 137.1h0M216.3 137.1h0M210 137.1h0M213.2 137.5h0M211.3 137h0M210.8 137.1h0M218.8 137.6h0M211.5 136.9h0M214.1 137.3h0M213.5 138.1h0M209.4 138.1h0M216 138.2h0M214.1 137.9h0M214.4 137.7h0M214.4 137.8h0M212.5 137.6h0M210.9 137.6h0M214.6 137.8h0M214.3 138.5h0M210.7 138.7h0M215.9 138.8h0M214.3 138.7h0M209.8 138.5h0M217.1 138.6h0M210.5 138.6h0M217.4 138.4h0M210.6 138.6h0M213.2 139.2h0M216.7 139.1h0M212.4 139.4h0M217.5 139.6h0M212.6 139.2h0M213 139.1h0M212.2 139.5h0M218.7 139.2h0M216.4 140.4h0M216.9 140h0M216.4 140.2h0M216.4 140h0M218.7 140.2h0M211.9 140h0M210.6 140h0M217.1 140h0M214.5 140.2h0M213 140.7h0M214.2 140.9h0M218.1 141h0M214.6 140.9h0M214.6 141.1h0M215.1 140.8h0M213.3 140.7h0M216.6 140.7h0M216.2 141.8h0M216 141.5h0M213.1 141.1h0M215.6 141.6h0M216.1 141.6h0M210.3 141.6h0M212.4 141.4h0M213.5 142.1h0M210.5 141.9h0M211.9 142h0M214.4 141.8h0M210.9 141.9h0M216.2 142.5h0M216.3 142.2h0M216.5 142.6h0M210.9 142.9h0M217.2 142.7h0M217.2 142.7h0M218 143h0M217.2 143.2h0M216.8 142.6h0M214.4 142.9h0M212.1 143.6h0M212.6 143.3h0M213.9 143.8h0M214.7 143.4h0M212.1 143.5h0M213.5 143.4h0M212.8 143.4h0M215.6 144.3h0M215.2 144.5h0M215.5 144h0M213.5 144.3h0M216.1 144.3h0M211.2 144.2h0M215.4 144.4h0M212.2 144.6h0M214.3 145.1h0M211.5 145h0M214.9 145h0M212.3 144.7h0M210.8 144.8h0M217.1 144.9h0M216.5 145.7h0M213.8 145.7h0M216.6 145.5h0M211.9 145.9h0M215.1 145.6h0M213.6 145.4h0M216.1 146.3h0M215.5 146.5h0M213.2 146.4h0M217.3 146.5h0M212.2 146.5h0M215.2 146.5h0M216.7 147.4h0M212.5 147h0M211.5 147.4h0M211.9 147h0M215 147h0M214.3 147.6h0M214.2 147.9h0M213.1 147.7h0M215 147.8h0M216 148h0M216.9 147.5h0M212.2 148.6h0M213.7 148.7h0M214.2 148.7h0M211.8 148.5h0M213.8 148.7h0M212.2 149.3h0M213.4 149.1h0M213.8 149.5h0M214.9 149.4h0M215.9 149.4h0M213.3 149.9h0M216 150.1h0M214.2 150.1h0M215.4 149.5h0M215.5 150.2h0M213.7 150.7h0M214.3 150.6h0M212.5 150.4h0M213.7 151.2h0M214.6 151.1h0M213.9 151.3h0M215.3 151.7h0M214.3 152.1h0M214.3 152.7h0M214.6 152.8h0M215 153.7h0M214.4 154h0M208.6 123.5h0M219.8 123.3h0M214.2 123h0M220.2 123.4h0M209.6 123.3h0M221.2 123.1h0M212.3 123.9h0M208.9 124h0M210.7 124.1h0M213.8 124.2h0M217.7 124.2h0M209.4 124.2h0M211.3 124.3h0M208.6 124.8h0M220.8 124.3h0M210.7 124.6h0M208.2 124.7h0M219.3 124.9h0M220 125.5h0M209.4 125.6h0M220.3 125.6h0M217.8 125.6h0M214.7 125h0M216.8 125.3h0M209.2 126.3h0M219.9 125.7h0M207.6 126.2h0M211.4 126.3h0M213.7 126.2h0M208 126.2h0M213.3 126.7h0M211.8 126.6h0M213.5 126.4h0M209.5 126.5h0M219.1 126.6h0M220.9 127h0M219.1 127.8h0M213.5 127.4h0M216.6 127.4h0M211 127.6h0M210.4 127.4h0M207.7 127.3h0M209.3 127.9h0M212.8 128h0M207.6 127.8h0M210.2 128.4h0M218 128.4h0M220.9 128.7h0M217 128.8h0M220.4 128.8h0M217.3 129h0M220.5 129h0M216.2 129.8h0M220.1 129.4h0M217.3 129.7h0M209.7 129.3h0M215.1 129.6h0M212 129.6h0M215.2 130.3h0M218.6 130.4h0M208.7 130.3h0M209.3 130.3h0M216.6 130.4h0M207.8 130.3h0M214.3 130.9h0M214.1 131.1h0M211.6 130.9h0M210.9 130.7h0M216 130.7h0M218.2 130.9h0M218 131.3h0M211.6 131.8h0M208 131.8h0M215.1 132h0M211.8 131.9h0M220.5 131.6h0M212.2 132.6h0M207.8 132.4h0M214.5 132.5h0M212.6 132.7h0M209.3 132.3h0M211.8 132.4h0M212.8 133h0M219.6 132.7h0M211.5 132.8h0M217 133.2h0M208.1 133.2h0M219.1 133h0M218 134h0M210.8 133.9h0M208.9 133.7h0M219.4 133.8h0M214.7 133.7h0M208.4 134.5h0M219.8 134.2h0M208.4 134.5h0M218.3 134.4h0M209 134.6h0M210.9 135.4h0M214.8 135.4h0M211 135.1h0M216.3 135.3h0M218.6 135.5h0M208.3 135.8h0M216.3 136h0M212 135.5h0M215.2 135.6h0M214.5 135.7h0M208.6 136.6h0M218.8 136.6h0M210 136.6h0M218.1 136.6h0M219.1 136.8h0M209.9 137.4h0M214 137.5h0M213.6 137.4h0M210.1 137.4h0M218.5 137.5h0M216.2 137.7h0M212.3 137.8h0M211.9 138h0M212.7 138.1h0M219.7 138.3h0M215.5 138.7h0M213.5 138.8h0M218.5 138.5h0M210.6 139.3h0M212.7 139.6h0M218.7 139.6h0M214.5 139.5h0M214.7 139.8h0M211.8 140.4h0M215.3 139.8h0M212.7 139.8h0M213 140.6h0M209.3 140.7h0M218.6 140.7h0M213.2 140.7h0M211.9 140.6h0M213.5 141.7h0M212.9 141.7h0M214.2 141.5h0M214.1 141.4h0M215.1 141.9h0M212.4 142.1h0M214.9 142.1h0M212 142h0M216.5 143.1h0M218 142.6h0M214.6 143h0M214.5 143.6h0M215.5 143.3h0M210.2 143.4h0M210 143.4h0M210.8 144.4h0M211.6 144.4h0M213.5 144.5h0M214.8 144.5h0M213.6 145.3h0M215.8 144.9h0M217.4 145.1h0M215.5 144.6h0M211.1 145.3h0M213 145.4h0M212.2 145.6h0M215.6 146.6h0M215.7 146.6h0M213.7 146.1h0M217.8 146.8h0M215.1 147h0M217.7 146.7h0M213.3 147.7h0M215.9 147.4h0M212.8 148.1h0M211.2 148.5h0M215.2 148.7h0M216.6 148.8h0M213.2 149.3h0M213.4 149.1h0M211.6 148.9h0M213.6 150h0M212.6 149.7h0M212 149.8h0M214.7 150.7h0M214.4 150.7h0M215.8 150.9h0M216.2 151.2h0M215.2 151.9h0M213.2 152.8h0M212.9 152.3h0M214.4 153.5h0M214.6 154.2h0M217.8 62.2h0M210.1 64.5h0M217 66.1h0M217.8 67.6h0M215.8 69.1h0M210 73.1h0M212.6 74.6h0M210.2 75.5h0M209.8 75.9h0M217.6 77h0M211.1 78h0M210.3 77.5h0M218.7 78.3h0M211.6 78.5h0M218.7 78.9h0M216 79h0M218.2 79.9h0M218 79.8h0M211 80.9h0M211.5 81.1h0M217.9 81.2h0M211.1 82h0M216.5 82.1h0M211.1 82.2h0M217.7 83.2h0M212.8 83.5h0M218.8 83.9h0M218.1 83.6h0M217.6 83.7h0M216.1 84.5h0M210.5 84.9h0M211.9 85.2h0M218.2 85.8h0M209.9 85.9h0M210.6 85.6h0M211.7 86.6h0M212.9 86h0M210.5 86.7h0M210.5 86.5h0M210.4 87.5h0M211.4 87h0M215.6 87.2h0M218.6 87.5h0M218.1 88.4h0M217.5 88.1h0M212.8 88.3h0M216.2 87.8h0M210.6 88.8h0M210.4 89.1h0M211.3 88.5h0M218.5 88.7h0M212.5 88.5h0M212.1 89.6h0M217 89.8h0M216.5 89.9h0M209.9 89.7h0M210 89.9h0M211.2 90.3h0M217.8 90.1h0M218.1 90.1h0M209.9 90.8h0M218.4 90.5h0M215.9 91.3h0M211.1 91.5h0M215.8 91.6h0M216.1 91.2h0M216.8 90.9h0M218.4 91.4h0M217.6 92.3h0M213.1 91.6h0M217.2 92.1h0M211.7 91.9h0M211.9 92.1h0M210.6 92.3h0M211.6 92.3h0M210.9 92.7h0M217.1 93.1h0M213.2 93h0M209.7 92.6h0M210.5 92.5h0M210.1 92.9h0M210.5 92.5h0M215.2 93.4h0M217.9 93.3h0M210.9 93.6h0M212.8 93.6h0M209.8 93.9h0M210 93.9h0M210.4 93.9h0M211 94.5h0M217.9 94.1h0M217.4 94.1h0M217.5 94.5h0M210.6 94.5h0M218.4 94.4h0M209.7 94.7h0M218.8 94.4h0M211.5 95h0M212.7 95.4h0M210.1 95.2h0M210 95.2h0M217.5 95.2h0M218.5 95.6h0M212 95h0M217.9 95.9h0M218.5 95.9h0M216.2 96.2h0M217.5 96.2h0M217.7 96.4h0M217.3 96.4h0M217.3 96.3h0M218 95.6h0M212.2 96.7h0M217.7 96.4h0M209.6 97h0M218 97.1h0M218.6 97.1h0M218.8 97.1h0M212.9 97.2h0M216.2 96.4h0M217.7 96.8h0M212 97.4h0M216.3 97.5h0M210.4 97.7h0M218.1 97.7h0M215.8 97.7h0M218 98h0M212.4 97.6h0M217.9 97.2h0M211.1 97.8h0M211.6 98.1h0M217.4 98.6h0M216 98.5h0M218.4 98.5h0M212.2 98.5h0M216.5 98.7h0M218.8 98.3h0M212.4 98.8h0M218.5 99.5h0M216.4 99.2h0M218.3 98.9h0M215.5 99h0M218 99.5h0M218 99.3h0M218.5 99.3h0M210.5 99.3h0M212.7 99h0M212.4 100.3h0M210.1 100.3h0M210.8 99.8h0M216.2 99.9h0M210.1 99.8h0M210.2 99.9h0M218.1 99.9h0M216.5 99.7h0M211.3 99.7h0M218.7 100.6h0M216.4 101.1h0M210.3 101.1h0M210.5 100.6h0M210.3 100.5h0M209.8 100.6h0M216.4 100.6h0M211.4 100.6h0M211.9 101h0M213.3 100.9h0M217.5 101.6h0M213.3 101.6h0M216.4 101.7h0M211.6 101.7h0M218.3 101.4h0M209.7 101.5h0M218.9 101.7h0M216.2 101.4h0M217.2 101.3h0M218.1 101.6h0M218.4 102.6h0M210.7 102.6h0M218.8 102.7h0M212 102.7h0M218.4 102.7h0M210.7 102.6h0M217.4 102.1h0M218.6 102.1h0M216.9 102.2h0M218.1 102.7h0M209.9 103h0M210.7 102.9h0M212.9 102.8h0M216.5 103.5h0M210.5 103.2h0M218.8 103.5h0M216.9 103.4h0M211.2 103.4h0M215.7 103.1h0M210 103.2h0M211.2 103.4h0M210.1 103.8h0M218.1 103.8h0M212.7 104.2h0M211.2 103.7h0M210 104h0M216.1 103.9h0M216.7 103.9h0M209.8 104.1h0M217.4 103.7h0M210.7 104h0M211 103.8h0M218.6 105.1h0M218.2 105h0M218.5 104.6h0M217.5 104.5h0M218.2 104.7h0M209.8 104.6h0M215.7 104.9h0M210.8 104.8h0M210.6 104.8h0M217.6 104.8h0M218.2 105h0M217.9 105.6h0M218.3 105.2h0M216.6 105.3h0M217.8 105.6h0M218.3 105.9h0M218.4 105.8h0M218.6 105.5h0M218.2 105.3h0M216.9 105.8h0M217.6 106h0M211.4 105.9h0M217.3 106.5h0M210.8 106.4h0M216.5 106.4h0M216.6 106h0M217.1 106.4h0M218.7 106.2h0M217 106.1h0M212.6 106.7h0M213.2 106.6h0M210.2 106.1h0M211.6 106.4h0M211.8 107.5h0M212.1 107.6h0M215.7 107.5h0M218.2 106.9h0M218.7 107.6h0M215.6 107.2h0M210.7 107.1h0M218.7 107.1h0M218.9 107.2h0M212.7 107.2h0M209.9 107.1h0M217.1 107.9h0M217.4 107.8h0M209.8 107.9h0M218.5 108.1h0M216.8 108h0M217.8 107.8h0M211.3 108.3h0M209.9 108.4h0M212.9 107.9h0M215.6 108.3h0M218.1 107.9h0M209.8 108.4h0M209.8 108.8h0M211.8 108.4h0M217.7 108.6h0M211.1 108.8h0M212.4 108.6h0M210.7 108.9h0M211.1 108.5h0M217.7 108.8h0M211.6 108.8h0M216.4 108.5h0M210.9 109.1h0M218.3 108.9h0M216.2 109.8h0M212.7 109.5h0M211.3 109.3h0M211.1 109.7h0M216.7 109.9h0M210.6 109.3h0M211.6 109.5h0M218.9 109.3h0M217.6 109.5h0M209.8 109.5h0M210.4 109.2h0M209.7 109.5h0M210.3 110.1h0M210.6 110.5h0M213 110.4h0M209.9 110.6h0M217.8 110.7h0M211.7 110.4h0M217.3 110.4h0M217.6 110.3h0M212.9 110.1h0M216.6 110.4h0M215.5 110.5h0M216.2 110.2h0M217.4 110.3h0M213.1 111.5h0M210.5 111.4h0M217.3 110.9h0M210.6 111.4h0M218.9 111.3h0M211.7 110.9h0M210.6 111h0M218.8 111.6h0M211.6 111.1h0M210 111.3h0M210.2 111.5h0M210 111.4h0M216.7 112.3h0M216.1 111.7h0M216.6 112h0M212.3 112.1h0M216.2 112.2h0M218.8 111.6h0M211.8 111.9h0M218.2 112.4h0M212.6 112h0M218.6 111.9h0M211.4 112.1h0M217.1 111.9h0M212.5 112.3h0M217.6 112.5h0M216.6 112.6h0M209.7 112.8h0M217 112.7h0M217.4 113.1h0M210.3 112.6h0M211.1 112.7h0M209.9 112.6h0M218.2 113.1h0M216.6 112.7h0M215.9 113.1h0M210.8 113h0M218 113.1h0M218.6 113.7h0M209.7 113.5h0M217.5 113.3h0M217.4 113.6h0M210.8 113.8h0M215.4 113.5h0M212.6 113.8h0M211.9 113.4h0M211.4 113.6h0M215.9 113.7h0M210 113.6h0M210.8 113.8h0M217.7 113.4h0M211 114h0M211.2 114.3h0M210.2 114.8h0M217.8 114.5h0M209.7 114.5h0M211.3 114.1h0M210.1 114.3h0M210.1 114.7h0M210 114.4h0M217.7 114.2h0M217.5 114.4h0M218.1 114.7h0M209.9 114.5h0M218.6 114.1h0M217.2 115.1h0M209.9 114.9h0M210.8 115.3h0M216.3 115.1h0M210.8 115.2h0M210.4 115.1h0M212.5 115.5h0M210.3 115.4h0M216.6 115.2h0M217.1 115h0M209.7 114.8h0M211.7 115.3h0M211.8 115.5h0M213.2 115h0M217.5 115.7h0M211.8 115.8h0M215.9 116h0M209.9 116.1h0M209.9 116.1h0M217.9 116.2h0M211.1 116.1h0M218.7 116.2h0M211.9 115.9h0M213 116.1h0M211.5 116.3h0M216.1 116.3h0M209.6 115.9h0M216.8 115.7h0M211 116.4h0M211.9 117h0M211.7 116.6h0M216.5 116.8h0M218.8 117.1h0M210.6 117.1h0M209.8 116.9h0M217.5 116.9h0M216.2 117.2h0M217.4 116.9h0M217 117h0M211.3 116.8h0M217.1 116.9h0M212.5 116.5h0M213.1 117.3h0M218.2 118h0M211.9 117.8h0M211.1 117.5h0M211.3 117.9h0M211.2 117.3h0M209.9 118h0M211.2 117.8h0M216.4 117.7h0M209.6 117.7h0M218.8 118h0M212.5 117.4h0M218.3 118h0M210.8 117.3h0M211.6 118.2h0M215.9 118.4h0M215.2 118h0M216.6 118.1h0M218.1 118.3h0M211 118.4h0M212.7 118.4h0M212.1 118h0M217.9 118.5h0M212.5 118.3h0M213.4 118.1h0M218.6 118.2h0M211.2 118.4h0M210.3 118.8h0M211.4 119.2h0M216.9 119.4h0M217.9 119.6h0M212.2 119.3h0M217.4 119.3h0M217.7 119.1h0M217.6 119.1h0M209.9 119.6h0M212 119.3h0M211.5 119.4h0M217.7 119h0M218.4 118.9h0M210.4 119.5h0M217.4 119.6h0M218.2 119.9h0M211 119.6h0M210 120.2h0M210 120.4h0M218.5 119.7h0M217.2 120h0M209.8 119.8h0M218 120.2h0M216.5 120h0M218.8 120h0M210 120.2h0M217.8 120h0M217.7 119.8h0M212.2 120h0M217.9 120.2h0M215.9 121.1h0M211.9 120.7h0M216.8 120.9h0M217.9 121h0M215.7 121.1h0M212.9 121h0M211.5 120.5h0M210.4 120.7h0M215.4 120.7h0M210.5 121.1h0M210 121h0M218 121h0M217.2 121.2h0M218.4 120.8h0M212.9 120.7h0M210.4 121.2h0M217.9 121.5h0M209.9 121.8h0M216.8 121.6h0M217.6 121.9h0M216.5 121.6h0M210.7 121.4h0M218.9 121.6h0M217 121.4h0M217.2 121.4h0M218.3 121.9h0M217.1 121.3h0M209.9 121.9h0M217.4 121.5h0M211 122h0M218.4 122.4h0M213.3 122.7h0M218.2 122.3h0M217.8 122.4h0M212 122.7h0M210.3 122.7h0M217.6 122.6h0M217.4 122.2h0M210.7 122.3h0M217.8 122.7h0M210.9 122.1h0M218.8 122.6h0M217.4 122.7h0M217.9 122.5h0M210.8 122.4h0M218.1 123.2h0M209.7 123h0M216.7 123.2h0M211.6 122.9h0M216 123.1h0M216.4 123h0M211.3 122.8h0M211.6 122.8h0M218.8 123.1h0M209.8 123h0M217.4 123.3h0M212.9 123.2h0M218.6 122.9h0M210 123.1h0M218.1 123h0" stroke="#b0b0b0" stroke-width="1.4" stroke-linecap="round" fill="none"/>
<path d="M208 85.5h0M208.2 87.2h0M207.8 88.7h0M208.1 89.3h0M207.8 89.9h0M207.9 90.5h0M207.5 91.5h0M207.6 92.5h0M208 92.7h0M207.5 93.6h0M208.2 94.3h0M207.7 95.2h0M207.6 95.4h0M207.7 96.6h0M207.5 96.6h0M206.9 97.6h0M207.2 97.3h0M207.3 97.7h0M208 98h0M208 99.1h0M207.4 98.9h0M207 99.8h0M208.2 100h0M207.8 101.2h0M208.3 101.8h0M206.9 102.7h0M206.8 102.9h0M208 103.4h0M207.2 103.5h0M207.6 104.1h0M207.7 104.1h0M207.8 105.4h0M207.9 104.9h0M208.1 106.1h0M208.3 106.2h0M207.1 106.8h0M206.8 107.2h0M207.1 107.4h0M207.1 108.5h0M208.3 108.9h0M207 108.9h0M207.3 109.8h0M207.4 109.7h0M207 111h0M207.9 110.9h0M208 111.3h0M207.6 112.6h0M208.3 112.6h0M207.7 113.1h0M207.6 112.8h0M207.3 114.3h0M208.5 113.7h0M207.3 115h0M208.5 115.2h0M207.3 115.6h0M208.1 115.3h0M207.8 116.6h0M208.3 116.5h0M207.6 117.4h0M207.6 117.1h0M208.3 118.3h0M207.9 118.5h0M208.5 118.4h0M206.9 119.7h0M208.2 120h0M207.8 120.5h0M207.4 121.5h0M208.4 121.4h0M207.7 122.1h0M208.3 121.7h0M208.5 122.8h0M207.3 122.6h0M207.4 82.4h0M207 84.7h0M207.4 85.7h0M207.2 88.5h0M207 91.2h0M207 92h0M206.7 94.8h0M206.6 96h0M206.5 97.3h0M206.5 98.2h0M205.9 99h0M205.5 100.8h0M205.8 101.3h0M204.9 101.9h0M206.7 103h0M205.7 103.6h0M206.4 107.9h0M205.7 108.8h0M205.4 110.2h0M204.7 110.6h0M205.8 112.1h0M205.1 113.4h0M204.5 115.9h0M205.9 116.1h0M205.1 117h0M205.5 118.2h0M205.1 119.9h0M205.2 121.1h0M206.3 122h0M205.8 122.8h0M219.9 73.9h0M221.1 76.7h0M221.9 77.7h0M222.1 78.9h0M220.7 79.3h0M220.5 80.7h0M220 81h0M220.5 82.3h0M222.5 82.6h0M222.4 84h0M220.4 83.3h0M222.3 84.2h0M221.1 85.2h0M221.6 85.6h0M220.5 85.8h0M220.9 85.7h0M220.4 86.6h0M221.9 86.5h0M222.8 87.3h0M220.2 87.7h0M220.7 88.4h0M221.9 88h0M222.7 89.1h0M222.7 89.2h0M220.5 89h0M220.2 89.9h0M223.3 90.1h0M221.6 90.4h0M220.9 90.9h0M223.2 90.7h0M221.4 91h0M222.5 91.6h0M220.4 91.8h0M222 91.8h0M220.7 92.2h0M221.7 92.1h0M221.2 92.7h0M220 93.4h0M221.5 93.4h0M221.9 94.4h0M220.7 93.6h0M221.1 94.2h0M222 94.8h0M222.8 94.6h0M220.9 94.6h0M222.4 95.8h0M223.2 95.8h0M222.1 95.7h0M221.5 96.1h0M222.6 96.6h0M221.6 96.6h0M220.2 97.5h0M222.8 97.5h0M220.7 97.7h0M219.9 97.9h0M220.6 98.1h0M221.7 98.9h0M220.7 98.9h0M221.3 98.5h0M222.6 99.4h0M221.2 99.6h0M221 99.2h0M222.9 100.1h0M220.1 100.6h0M221.5 100.4h0M220.3 101h0M220.2 101.5h0M219.9 100.9h0M223 102.3h0M221.1 102h0M220.4 101.9h0M222.5 103h0M221.2 102.7h0M220.6 103.1h0M220.5 103.5h0M222.5 103.9h0M221.9 103.4h0M222.8 104.4h0M222.1 104.4h0M222.2 105h0M222.1 105.1h0M221.3 105.1h0M220.2 105.7h0M222.2 105.8h0M221.4 106.9h0M220.6 106.4h0M222.7 107.3h0M221.9 107.6h0M221 108.6h0M221.5 108.2h0M221.1 109.3h0M222.7 109.5h0M220 109.1h0M222.1 109.7h0M222 110.1h0M220.7 110.3h0M222.2 111.2h0M222.1 110.9h0M221.8 111.5h0M221 111.3h0M220.4 112.8h0M221.1 112.5h0M222.2 113.1h0M220.3 113.5h0M221.5 113.7h0M220.6 113.9h0M222.5 114h0M222.7 114.8h0M219.9 115.1h0M222.4 114.6h0M222.1 115.6h0M222.3 115.4h0M222.5 116.5h0M220.5 116.4h0M220.6 116.5h0M220 117.2h0M221.7 117.6h0M222.3 117.6h0M220.4 117.7h0M221.8 118.6h0M220.5 118.4h0M221.6 119h0M221.1 119.8h0M221 119.6h0M221.9 119.3h0M220.2 120.6h0M222.5 120.4h0M221.8 121.6h0M221.4 121.1h0M220.2 122h0M222.3 121.7h0M220.9 121.7h0M221.3 122.8h0M222.3 123.1h0M224.3 70.6h0M221.1 71.1h0M223.1 72.9h0M222.4 73.6h0M225.3 74.5h0M222.3 76.1h0M226.6 76.7h0M225.1 77.4h0M225.5 78.7h0M226.4 79.6h0M223 79.8h0M224.9 80.9h0M224.3 81.2h0M223.6 81.5h0M225.5 82.3h0M225.8 83h0M227.4 83.3h0M227.9 84.3h0M225.3 84.5h0M224.6 85.7h0M225.1 85.3h0M227.8 86.1h0M226 87h0M225.6 87.5h0M226.8 87.8h0M228.6 87.6h0M224.3 89h0M228 89h0M224.8 89.5h0M227.3 89.9h0M228.7 90.6h0M225 90.6h0M227.7 91.2h0M224.7 91.4h0M224 92.3h0M228.4 92.2h0M224.1 92.7h0M227.5 93.7h0M225.4 94.7h0M227.9 95.4h0M225.6 95.2h0M224.9 96.2h0M224.1 96.1h0M223.4 96.9h0M225.3 98h0M223.9 98.2h0M223.4 98.9h0M225.1 100.3h0M224.4 100.4h0M223.5 101.2h0M224 102.1h0M224.6 103.4h0M223.1 103.8h0M223.9 105h0M225.6 105.6h0M224.7 106.5h0M223.6 109.8h0M224 116.7h0M223.2 123.2h0M238.4 53.4h0M238.1 59h0M237.7 61.9h0M231.9 61.5h0M226.6 62.2h0M223.9 63.3h0M221.1 65.6h0M222.5 67h0M225.2 69.8h0M233.5 68.4h0M234.9 69.1h0M239.8 69.1h0M237.7 71.2h0M229.4 71.6h0M220.8 71.9h0M223.2 73.2h0M226.6 72.5h0M231.5 73.9h0M235.3 73.9h0M223.9 75.3h0M225.2 76.7h0M221.8 76h0M239.1 77.7h0M230 87h0M207.7 60.5h0M207.1 67.4h0M204.6 82.7h0M202.2 91.9h0M199.7 102.2h0M201 102.7h0M200.5 105.5h0M202.2 110h0M203.8 101.6h0M204.4 82.7h0M202.2 92.1h0M207.2 67.2h0M208.1 60.6h0M232 78h0M236 80h0M234 90h0M231 95h0M233 86h0M229.5 93h0M232.5 98h0M235.5 83h0" stroke="#c0221c" stroke-width="1.9" stroke-linecap="round" fill="none"/>
<path d="M221.1 79.9h0M226.9 80.2h0M240.2 81.3h0M234.4 83.4h0M227.3 86.1h0M227.2 86.3h0M221.4 99.2h0M228.3 100.5h0M225 103.8h0M226 102.7h0M226.1 117.4h0M221 79.7h0M233.8 83.3h0" stroke="#1f2d8f" stroke-width="2.4" stroke-linecap="round" fill="none"/>
<rect x="167.5" y="28.6" width="93.5" height="125.7" fill="none" stroke="#3a3a3a" stroke-width="1.1"/>
<path d="M164.7 154.3H167.5M164.7 138.6H167.5M164.7 122.9H167.5M164.7 107.2H167.5M164.7 91.5H167.5M164.7 75.7H167.5M164.7 60H167.5M164.7 44.3H167.5M164.7 28.6H167.5M167.5 154.3V157.5M179.2 154.3V157.5M190.9 154.3V157.5M202.6 154.3V157.5M214.2 154.3V157.5M225.9 154.3V157.5M237.6 154.3V157.5M249.3 154.3V157.5M261 154.3V157.5" stroke="#2a2a2a" stroke-width="1.15" fill="none"/>
<rect x="167.5" y="28.6" width="41.6" height="94.3" fill="none" stroke="#da5d44" stroke-width="1.55"/>
<rect x="219.4" y="28.6" width="41.6" height="94.3" fill="none" stroke="#da5d44" stroke-width="1.55"/>
<path d="M209.8 28.8H218.7" stroke="#5c5c5c" stroke-width="1.8"/>
<text x="161.50" y="156.40" font-size="5.9" fill="#222" text-anchor="end" stroke="#222" stroke-width="0.20" stroke-linejoin="round">1.E+00</text>
<text x="161.50" y="140.69" font-size="5.9" fill="#222" text-anchor="end" stroke="#222" stroke-width="0.20" stroke-linejoin="round">1.E-01</text>
<text x="161.50" y="124.97" font-size="5.9" fill="#222" text-anchor="end" stroke="#222" stroke-width="0.20" stroke-linejoin="round">1.E-02</text>
<text x="161.50" y="109.26" font-size="5.9" fill="#222" text-anchor="end" stroke="#222" stroke-width="0.20" stroke-linejoin="round">1.E-03</text>
<text x="161.50" y="93.55" font-size="5.9" fill="#222" text-anchor="end" stroke="#222" stroke-width="0.20" stroke-linejoin="round">1.E-04</text>
<text x="161.50" y="77.84" font-size="5.9" fill="#222" text-anchor="end" stroke="#222" stroke-width="0.20" stroke-linejoin="round">1.E-05</text>
<text x="161.50" y="62.13" font-size="5.9" fill="#222" text-anchor="end" stroke="#222" stroke-width="0.20" stroke-linejoin="round">1.E-06</text>
<text x="161.50" y="46.41" font-size="5.9" fill="#222" text-anchor="end" stroke="#222" stroke-width="0.20" stroke-linejoin="round">1.E-07</text>
<text x="161.50" y="30.70" font-size="5.9" fill="#222" text-anchor="end" stroke="#222" stroke-width="0.20" stroke-linejoin="round">1.E-08</text>
<text x="167.50" y="165.90" font-size="5.9" fill="#222" text-anchor="middle" stroke="#222" stroke-width="0.20" stroke-linejoin="round">-8</text>
<text x="179.19" y="165.90" font-size="5.9" fill="#222" text-anchor="middle" stroke="#222" stroke-width="0.20" stroke-linejoin="round">-6</text>
<text x="190.88" y="165.90" font-size="5.9" fill="#222" text-anchor="middle" stroke="#222" stroke-width="0.20" stroke-linejoin="round">-4</text>
<text x="202.56" y="165.90" font-size="5.9" fill="#222" text-anchor="middle" stroke="#222" stroke-width="0.20" stroke-linejoin="round">-2</text>
<text x="214.25" y="165.90" font-size="5.9" fill="#222" text-anchor="middle" stroke="#222" stroke-width="0.20" stroke-linejoin="round">0</text>
<text x="225.94" y="165.90" font-size="5.9" fill="#222" text-anchor="middle" stroke="#222" stroke-width="0.20" stroke-linejoin="round">2</text>
<text x="237.62" y="165.90" font-size="5.9" fill="#222" text-anchor="middle" stroke="#222" stroke-width="0.20" stroke-linejoin="round">4</text>
<text x="249.31" y="165.90" font-size="5.9" fill="#222" text-anchor="middle" stroke="#222" stroke-width="0.20" stroke-linejoin="round">6</text>
<text x="261.00" y="165.90" font-size="5.9" fill="#222" text-anchor="middle" stroke="#222" stroke-width="0.20" stroke-linejoin="round">8</text>
<text transform="translate(214.25 177.60) scale(0.750 1)" font-size="7.4" fill="#1a1a1a" font-weight="bold" text-anchor="middle" stroke="#1a1a1a" stroke-width="0.12" stroke-linejoin="round">Log2 ratio (FC)</text>
<text x="213.25" y="23.50" font-size="8" fill="#111" text-anchor="middle" stroke="#111" stroke-width="0.20" stroke-linejoin="round">SLB-1</text>
<text x="170.00" y="35.00" font-size="5.2" fill="#333" font-style="italic" stroke="#333" stroke-width="0.08" stroke-linejoin="round">87 genes</text>
<text x="259.00" y="35.00" font-size="5.2" fill="#333" font-style="italic" text-anchor="end" stroke="#333" stroke-width="0.08" stroke-linejoin="round">275 genes</text>
<text x="259.00" y="121.58" font-size="5.2" fill="#333" font-style="italic" text-anchor="end" stroke="#333" stroke-width="0.08" stroke-linejoin="round">10 genes</text>
<rect x="291.5" y="28.6" width="41.6" height="94.3" fill="#fef9f8"/>
<rect x="343.4" y="28.6" width="41.6" height="94.3" fill="#fef9f8"/>
<path d="M303.2 28.6V154.3M314.9 28.6V154.3M326.6 28.6V154.3M338.2 28.6V154.3M349.9 28.6V154.3M361.6 28.6V154.3M373.3 28.6V154.3M291.5 138.6H385M291.5 122.9H385M291.5 107.2H385M291.5 91.5H385M291.5 75.7H385M291.5 60H385M291.5 44.3H385" stroke="#e6e6e6" stroke-width="0.7" fill="none"/>
<path d="M334.2 122.9L334.2 123.9L334.1 124.9L334.1 125.9L334 126.9L333.9 127.9L333.9 128.9L333.8 129.9L333.9 130.9L333.9 131.9L333.9 132.9L334 133.9L334 134.9L334.1 135.9L334.1 136.9L334.2 137.9L334.2 138.9L334.2 139.9L334.3 140.9L334.4 141.9L334.6 142.9L334.7 143.9L334.8 144.9L334.9 145.9L335 146.9L335.1 147.9L335.4 148.9L335.7 149.9L336 150.9L336.3 151.9L337 152.9L337.4 153.5L339.1 153.5L339.5 152.9L340.2 151.9L340.5 150.9L340.8 149.9L341.1 148.9L341.4 147.9L341.5 146.9L341.6 145.9L341.7 144.9L341.8 143.9L341.9 142.9L342.1 141.9L342.2 140.9L342.3 139.9L342.3 138.9L342.3 137.9L342.4 136.9L342.4 135.9L342.5 134.9L342.5 133.9L342.6 132.9L342.6 131.9L342.6 130.9L342.7 129.9L342.6 128.9L342.6 127.9L342.5 126.9L342.4 125.9L342.4 124.9L342.3 123.9L342.3 122.9 Z" fill="#b0b0b0"/>
<path d="M339.3 123.5h0M336.5 123.4h0M341.4 123.5h0M335.7 123.4h0M339.2 123.3h0M342 123.3h0M337.8 123.6h0M336.6 123.8h0M338.2 123.6h0M339.1 124.1h0M337.7 124.2h0M341.7 124h0M339.7 123.7h0M334.7 124.3h0M335.9 124.9h0M340.3 124.4h0M336.8 124.5h0M336.4 124.3h0M338.5 124.5h0M337.4 124.4h0M335.1 124.3h0M341.3 124.8h0M335.1 125.1h0M335.1 125.2h0M334.6 125.2h0M335.8 125.1h0M339.5 125.3h0M338 125.3h0M338.6 125.5h0M334.7 126h0M337.2 126.2h0M335 126.3h0M334.2 126.1h0M337.8 125.9h0M341.5 126.2h0M335.4 126h0M339.2 125.7h0M339.1 126.9h0M337.9 126.7h0M338.3 126.6h0M341.4 127.1h0M338.1 126.4h0M337.4 127h0M336.8 126.5h0M335.6 126.9h0M336.4 127.5h0M340.5 127.8h0M341.1 127.4h0M340.9 127.7h0M341.4 127.6h0M339 127.5h0M341.2 127.5h0M340.1 127.3h0M336.3 128.2h0M338.9 127.9h0M335.6 128.5h0M334.6 128.4h0M340.6 128.2h0M342.5 128.3h0M334 128.5h0M337.5 128.4h0M335.1 128.5h0M334.1 129h0M340.8 128.7h0M334.9 128.8h0M340.8 129h0M341.4 129.2h0M340.5 129.1h0M334.1 128.5h0M339.3 129.4h0M335 129.4h0M336.8 129.5h0M337.8 129.3h0M334.6 129.3h0M335 129.3h0M337.5 129.3h0M340.9 129.6h0M339.5 130.1h0M334 130h0M336.8 130.2h0M336.1 130.1h0M341.2 129.9h0M337.8 130.2h0M336.3 130.4h0M335.8 129.9h0M342.5 130.8h0M334.9 131.3h0M339.5 131.3h0M336.8 131.2h0M334.2 130.8h0M340.8 131h0M340.8 130.9h0M341.6 130.7h0M335.5 131.4h0M341.6 131.6h0M341 131.5h0M340.3 131.9h0M339.4 131.5h0M339.7 132h0M340.9 131.6h0M337.4 131.4h0M335.3 132.2h0M334.2 132.1h0M337.2 132.3h0M335.4 132.3h0M340.5 132.1h0M335.1 132.4h0M341.8 132.6h0M338.9 132.1h0M342.5 133.3h0M338.5 133h0M339 133.3h0M342.5 133h0M338.3 132.9h0M338.6 133.1h0M336.4 133h0M336 133.6h0M336.6 134h0M336.6 134h0M341.9 134h0M340.9 133.5h0M337.8 134h0M336.1 133.8h0M341.9 134.3h0M335 134.1h0M336.7 134.5h0M336.4 134.7h0M339.5 134.5h0M341 134.3h0M339.5 134.3h0M335 135.4h0M341.6 134.8h0M340.1 134.8h0M337.6 135h0M341.7 135.1h0M338.3 135h0M336.2 135h0M334.6 134.8h0M340.3 136h0M336.2 136.2h0M334.7 135.8h0M336.9 135.6h0M342.1 136h0M335.2 135.6h0M340.9 135.8h0M336.6 135.7h0M339 136.4h0M339 136.2h0M338.5 136.6h0M336.7 136.8h0M341.8 136.7h0M337.5 136.3h0M339.3 136.4h0M335.5 136.6h0M339.4 137.4h0M334.2 137.3h0M335.7 137.1h0M340.1 137.6h0M336.7 137.4h0M337 137.6h0M335.6 137.4h0M334.8 137.3h0M341.6 138.1h0M338.7 137.9h0M339.3 138.1h0M339.2 138.1h0M340.3 138.3h0M339.2 138.2h0M340.2 137.9h0M337.2 138.9h0M341.3 138.9h0M341.6 138.8h0M338.2 138.5h0M339.4 138.9h0M337.1 138.4h0M340.3 138.9h0M335.3 139.1h0M338.7 139.6h0M336.2 139.6h0M334.6 139.1h0M338.6 139.5h0M338.2 139.5h0M337.1 139.3h0M338.4 139h0M337.1 140.2h0M335.8 139.9h0M342.2 140.2h0M337.5 140.2h0M340 140.3h0M338.7 140.1h0M335 140h0M337.4 139.9h0M341.3 140.6h0M335.2 140.6h0M335.6 140.4h0M341.5 140.8h0M334.5 140.8h0M335.7 140.7h0M341.8 141.1h0M340.4 141.4h0M335 141.4h0M340.7 141.6h0M340 141.8h0M337.3 141.6h0M340.7 141.7h0M341.1 141.7h0M337.3 142.2h0M335.4 142h0M337.3 141.9h0M335.8 142.3h0M336.8 141.8h0M340.5 142.5h0M336.1 142.3h0M336.2 142.6h0M339.3 142.9h0M340.7 143h0M340.2 143.1h0M338.9 142.7h0M335.7 143.1h0M340.6 143h0M340.5 143.5h0M335.9 143.5h0M341.3 143.8h0M334.6 143.2h0M337.9 143.8h0M341 143.8h0M336.1 144.4h0M337.8 144.1h0M341.6 143.9h0M338.2 144.5h0M339.7 144.5h0M336.6 144.3h0M341.7 144h0M341.7 144.7h0M340.2 145.1h0M336.5 145.3h0M340.2 144.7h0M341.7 145.2h0M338.1 144.6h0M338.8 145.8h0M335.4 145.6h0M340.4 145.8h0M336 145.5h0M337.9 145.6h0M341.6 146h0M339 146.1h0M340.7 146.4h0M340.9 146.6h0M341.2 146.1h0M335.3 146.5h0M338 146.5h0M337.9 146.3h0M337.4 147h0M337.6 147.2h0M335.4 147h0M338.8 147.2h0M340.9 147h0M341.3 147.2h0M338.6 147.7h0M339.2 147.4h0M340.8 147.7h0M335.1 147.5h0M337.2 147.6h0M340.4 147.7h0M336.9 148.3h0M341.1 148.7h0M341 148.2h0M335.6 148.6h0M337.2 148.2h0M337.2 149h0M339.2 149.5h0M336.3 149.4h0M338.8 149.4h0M341.1 149.4h0M336.1 149.3h0M337.6 149.5h0M339.6 149.9h0M339.6 150h0M339.5 149.5h0M340.6 150.2h0M339.7 150.9h0M337.9 150.4h0M338.8 150.7h0M337.8 150.7h0M340.5 150.5h0M336.6 151.3h0M339.7 151.2h0M337.3 151.1h0M337.6 151.2h0M337.2 152h0M337.1 151.8h0M338.1 152.2h0M337.3 151.7h0M338.5 152.4h0M339.8 152.4h0M338.7 152.5h0M337.9 153.4h0M339 153.5h0M338 154.1h0M338.3 154.2h0M334.2 122.9h0M341.1 123h0M340.6 123.2h0M342.5 123.3h0M334.5 124.2h0M337.1 123.6h0M341.6 123.8h0M339.7 123.6h0M337.9 124.6h0M341.4 124.5h0M342.2 124.4h0M342.7 124.5h0M342.4 125.5h0M341.7 125.1h0M342.8 125h0M340 125.6h0M340.5 126.1h0M343 125.9h0M342.3 126.3h0M335.2 126h0M334.8 127h0M341.8 126.9h0M333.6 126.9h0M342.5 126.9h0M342.8 127.6h0M340.7 127.3h0M341 127.3h0M335.9 127.3h0M333.6 127.9h0M336 128h0M333.4 128.3h0M341.5 128h0M342 128.5h0M339 128.9h0M334.9 129.1h0M341.4 128.9h0M341.7 129.2h0M342.1 129.6h0M336.2 129.4h0M338.7 129.3h0M337.3 130.5h0M343 130.5h0M334.2 130.1h0M339.6 130.6h0M336.8 131.2h0M337.9 131h0M337.8 131.3h0M339.4 130.7h0M337.3 131.4h0M338.2 131.5h0M342.9 131.5h0M338.7 131.3h0M339.8 132.3h0M339.9 132.4h0M339.4 132.2h0M342.6 132.5h0M341.6 132.8h0M337.4 133.2h0M342.3 132.8h0M336.2 133.1h0M340.1 133h0M343.2 133.4h0M337.3 134h0M341.4 134.1h0M336.6 133.6h0M341.5 134.7h0M338.6 134.2h0M340.2 134.3h0M333.5 134.1h0M337 135.2h0M337.7 135.2h0M339.6 134.9h0M341.2 135.3h0M338.9 135.9h0M341.6 136h0M335.9 136.1h0M335.2 135.7h0M337.8 136.3h0M342.1 136.6h0M333.5 136.4h0M336.7 136.4h0M335.6 137h0M341.7 137.3h0M338 137.5h0M340 137.5h0M336.4 137.8h0M338 138h0M335.3 138h0M342.5 138.1h0M338 138.7h0M334 139h0M341 138.7h0M338.4 138.7h0M337.2 138.7h0M336.8 139.3h0M334.1 139.4h0M335.8 139.2h0M335 139.5h0M339 140.1h0M339.1 140h0M336 140.2h0M340.4 139.8h0M336.9 141h0M336.5 140.6h0M337.6 140.8h0M339.4 140.6h0M342.7 141.6h0M335.7 141.5h0M335.1 141.8h0M336.1 141.7h0M335.8 142h0M336.7 142h0M337.3 142.1h0M334.8 142.2h0M335.8 142.6h0M334.2 142.6h0M338.4 142.9h0M341 143.3h0M336.2 143.3h0M334.5 143.2h0M342.1 144.6h0M334.2 144.1h0M337 144.5h0M337.8 145.2h0M340.6 144.7h0M338.4 145.1h0M335.2 145.2h0M337.2 145.5h0M334.9 145.9h0M335.8 145.7h0M339.1 146.6h0M336.5 146.5h0M336 146.5h0M338 147.2h0M339.6 146.7h0M336 146.8h0M340.7 147.6h0M341.5 147.5h0M337.7 148h0M340.9 148.1h0M336.7 148.7h0M339.4 148.2h0M338.4 148.8h0M341.2 148.8h0M341.2 149.3h0M337.4 149.7h0M338.2 150.2h0M338.1 150.6h0M341 150.7h0M340.8 150.7h0M340.5 150.9h0M339.5 150.9h0M336.1 151.9h0M339.6 152.2h0M337.7 152.5h0M338.1 152.5h0M338.7 153.1h0M335.8 62.4h0M339.6 65.5h0M336.9 67.1h0M339.8 74.9h0M337.5 79.4h0M341.3 81.1h0M341.3 83.4h0M338.9 84.3h0M342.4 86.2h0M339.2 86.7h0M342.3 87.7h0M340.2 88.3h0M339 89.4h0M341.5 88.8h0M341.4 90.1h0M338.5 90.5h0M336.7 91.9h0M339.3 91.7h0M339.8 92.3h0M341.5 92.7h0M340 93.2h0M340.1 93.6h0M336.4 94h0M341.9 93.7h0M338.6 94.1h0M338.4 95h0M341.7 95h0M342 94.5h0M338.9 95.4h0M339 95.9h0M341.1 95.4h0M340.5 96.2h0M338.4 96.1h0M339.1 96.6h0M338.1 97h0M342.7 97h0M339 97h0M339.4 97.4h0M340 98.3h0M337.9 98.2h0M338.5 97.8h0M337.3 98.9h0M337 99h0M341 98.4h0M338.5 98.9h0M340.2 99.2h0M341.1 99.3h0M335.9 99.8h0M338.8 99.4h0M336.8 99.5h0M335.9 100.4h0M338.9 100.7h0M338.7 100.1h0M339.9 100.1h0M336.4 100.7h0M338.2 101h0M336.6 101.1h0M338.7 101.6h0M339 101.1h0M339.2 101h0M339.3 101.1h0M338.3 102.2h0M336.1 102.1h0M342.4 102.1h0M338.9 102.3h0M340.9 101.9h0M335.5 102.3h0M338.8 101.9h0M337 103h0M340 102.5h0M341.1 103h0M336.1 102.9h0M337.9 102.7h0M337.6 102.8h0M336.1 103.2h0M342.9 103.2h0M338.4 103.4h0M342.9 103.5h0M343 103.5h0M336.2 103.5h0M335.8 103.6h0M336.5 103.4h0M336.4 103.5h0M339.4 104.5h0M341.7 104.3h0M340.4 104h0M339.3 104.7h0M338 104.1h0M342.4 104.6h0M337.7 104.1h0M338.2 104.4h0M341.9 105.2h0M341.5 105.2h0M342.6 105.3h0M339.1 105.2h0M341.9 105.3h0M339.5 104.9h0M342.1 105.3h0M342.9 105.1h0M336.7 104.8h0M339 105.8h0M340.8 105.8h0M342.4 105.7h0M336.5 105.7h0M341.4 106.3h0M340.6 105.8h0M341.8 106.2h0M337 106.3h0M341.1 105.8h0M334.9 106.5h0M335.5 107.1h0M338.6 106.9h0M342.4 106.6h0M336 106.6h0M342.6 106.7h0M335.2 106.5h0M338 107.1h0M336.7 107h0M337.8 107.2h0M336.8 107.5h0M339.2 107.5h0M338.6 108h0M335.1 107.5h0M341 107.9h0M342.1 107.5h0M337.8 107.9h0M339.6 108h0M335.8 107.8h0M340.9 108h0M339.8 108.7h0M338.5 108.1h0M340.5 108.1h0M336.1 108.8h0M338.6 108.8h0M342.7 108.1h0M336.7 108.6h0M336.2 108.1h0M335.5 108.7h0M342.3 108.7h0M337.9 108.2h0M334.9 109h0M342.4 109.6h0M337.8 109h0M339.8 109.5h0M339.5 109.2h0M340.3 109.4h0M337.1 109.1h0M338.7 109.2h0M343.1 109h0M334.8 109.2h0M343 109.6h0M343.2 110.3h0M336.8 109.8h0M336.2 110h0M339.3 109.8h0M338.8 110h0M335.8 110.1h0M335.6 110h0M336.2 109.7h0M339.5 110.2h0M339.1 109.7h0M336.1 110.3h0M339.4 109.8h0M335.7 110.9h0M334.5 111h0M336.1 110.7h0M342.9 110.4h0M337.4 110.9h0M340 111.1h0M341.6 110.8h0M341.3 110.6h0M341.3 111.1h0M334.5 111h0M337.5 110.5h0M335.7 110.6h0M342 111.7h0M337.5 111.4h0M336.2 111.3h0M338.4 111.7h0M341.5 111.8h0M342.2 111.7h0M341 111.7h0M340.1 111.8h0M335.2 111.2h0M336.2 111.5h0M338.3 111.3h0M340.2 111.7h0M342.3 112.2h0M337.3 112.8h0M336.5 112.2h0M334.7 112.3h0M339.5 112.3h0M339.3 112.5h0M339.2 112.8h0M341 112.1h0M342.4 112.6h0M341.2 112.7h0M341.9 112.2h0M337.9 112.5h0M341.1 113.1h0M340.5 113.1h0M337.2 113.3h0M338.2 113.1h0M338.1 113.1h0M337.2 113.1h0M339.3 112.9h0M337.6 113.3h0M337.5 113.4h0M336.8 113.2h0M338.3 113.1h0M338.7 113.5h0M342.6 112.9h0M339.9 114h0M336 113.8h0M338.1 113.7h0M342.1 114.3h0M343 113.7h0M335.6 114.4h0M339.4 113.8h0M340.7 114.1h0M340.7 114.3h0M336.3 113.8h0M340.1 114.4h0M339 114.1h0M338.6 113.6h0M338.9 114.6h0M334.8 114.8h0M341.5 115.1h0M341.5 115.2h0M340.1 114.6h0M335.9 114.9h0M338.4 114.6h0M342.8 114.5h0M335.8 114.6h0M338.7 115h0M336 114.6h0M340.6 115.1h0M338.5 115.1h0M338.4 115.4h0M336.1 115.5h0M342.5 115.7h0M340.9 115.9h0M341.8 115.5h0M335.7 115.2h0M340.1 115.3h0M341.2 115.9h0M335.4 115.9h0M336.9 115.6h0M341.8 115.2h0M336.1 115.4h0M341.7 115.9h0M338.1 115.3h0M336.7 116.5h0M342.9 116.6h0M339.8 116.5h0M338.7 116.4h0M338 116.6h0M342.5 116h0M336.1 116.5h0M341.8 116.5h0M337.8 116.2h0M339.8 116h0M336.2 116.7h0M338.8 116.5h0M335.5 116.1h0M341.6 116.1h0M339.4 117.1h0M337 117.3h0M339.2 116.9h0M337 117.4h0M339.4 117h0M338.8 117.1h0M334.6 116.9h0M341.2 117.3h0M336.6 117.1h0M335.9 116.8h0M336.4 117.1h0M337.6 116.9h0M341.3 117.2h0M333.9 117.3h0M334.8 117.3h0M338.8 117.9h0M341.9 117.8h0M334.9 118h0M340.4 117.8h0M338.7 118.2h0M334.8 118.3h0M336.9 118h0M336.5 118.2h0M339.5 117.9h0M337 118.2h0M336.7 117.8h0M334.1 118.3h0M342 118.2h0M343.1 117.9h0M342.3 118.1h0M337.1 118.7h0M336.8 118.6h0M337 119.1h0M334.2 118.8h0M341 119h0M334 119.1h0M336.7 118.9h0M339.3 119.1h0M342.4 119h0M335.1 118.6h0M336.4 118.5h0M336.1 118.6h0M343 118.9h0M342 119.2h0M341.9 119h0M337.1 118.7h0M341.8 119.4h0M338.5 119.8h0M334.4 119.7h0M333.8 119.4h0M340.1 119.7h0M343 119.7h0M342.1 119.8h0M335.8 120h0M333.9 119.8h0M337.5 119.4h0M336.7 119.8h0M342.4 119.6h0M342 119.5h0M341.9 120h0M340.3 119.5h0M336.3 119.3h0M341.5 120.2h0M334.9 120.7h0M341.6 120.4h0M333.7 120.6h0M336 120.4h0M335.3 120.7h0M339.5 120h0M340.1 120.2h0M341 120.2h0M338.7 120.5h0M337 120.1h0M337.2 120.1h0M341.5 120.2h0M333.6 120.4h0M337.8 120.5h0M338 120h0M343 121.3h0M337.3 121h0M340.4 121.5h0M339.4 121h0M336.5 121.5h0M337.3 121.3h0M333.6 121.3h0M342 121.5h0M341.7 121.1h0M336.8 121.2h0M337.5 121.3h0M337.4 121.5h0M343 121.2h0M340.1 121.5h0M342.9 121.2h0M336.6 120.8h0M333.9 121.2h0M337.9 122.3h0M336.5 122h0M342.7 122h0M341.3 122.4h0M336.3 121.8h0M340.9 122h0M335.8 121.8h0M339.8 121.9h0M340 121.8h0M336 121.9h0M341.4 121.7h0M335 121.7h0M340.1 122.3h0M336 122.4h0M340.1 122h0M337.8 122.3h0M339.2 122.2h0M338.9 123h0M336.3 122.6h0M335.9 122.5h0M336.6 122.6h0M333.5 122.7h0M337.3 122.9h0M336 123.1h0M334.8 122.8h0M334.2 122.8h0M336.8 122.8h0M335.5 122.7h0M339.9 122.6h0M336 122.5h0M337.3 122.6h0M340 122.8h0M335.6 122.9h0M343.1 122.8h0M337.9 122.9h0" stroke="#b0b0b0" stroke-width="1.4" stroke-linecap="round" fill="none"/>
<path d="M352 49.4h0M351.6 50.8h0M344.4 66.6h0M347.9 70.7h0M350.6 69.4h0M344.4 76.3h0M345.1 77.4h0M345.1 79.5h0M344.7 83h0M348.5 86.4h0M344.4 85.7h0M356.2 88.8h0M348.6 86.3h0M344.4 87h0M344.4 88.7h0M344.4 90.5h0M356.4 89.2h0M345 93.3h0M347.7 97h0M352.4 95.5h0M351 99.4h0M349.7 102.2h0M329.4 98.9h0M344.4 101.1h0M345.3 103.3h0M346.4 105h0M347.5 105.8h0M344.4 108.3h0M346.1 110.3h0M344.2 111.6h0M344.4 113.8h0M344.3 95h0M344.4 98h0M344.3 117h0M344.5 120h0" stroke="#c0221c" stroke-width="1.9" stroke-linecap="round" fill="none"/>
<path d="M363.8 73.9h0M347.2 83.2h0M346.5 87.8h0M346.6 87.4h0M345.3 114.7h0M346.1 116.6h0" stroke="#1f2d8f" stroke-width="2.4" stroke-linecap="round" fill="none"/>
<rect x="291.5" y="28.6" width="93.5" height="125.7" fill="none" stroke="#3a3a3a" stroke-width="1.1"/>
<path d="M288.7 154.3H291.5M288.7 138.6H291.5M288.7 122.9H291.5M288.7 107.2H291.5M288.7 91.5H291.5M288.7 75.7H291.5M288.7 60H291.5M288.7 44.3H291.5M288.7 28.6H291.5M291.5 154.3V157.5M303.2 154.3V157.5M314.9 154.3V157.5M326.6 154.3V157.5M338.2 154.3V157.5M349.9 154.3V157.5M361.6 154.3V157.5M373.3 154.3V157.5M385 154.3V157.5" stroke="#2a2a2a" stroke-width="1.15" fill="none"/>
<rect x="291.5" y="28.6" width="41.6" height="94.3" fill="none" stroke="#da5d44" stroke-width="1.55"/>
<rect x="343.4" y="28.6" width="41.6" height="94.3" fill="none" stroke="#da5d44" stroke-width="1.55"/>
<path d="M333.8 28.8H342.7" stroke="#5c5c5c" stroke-width="1.8"/>
<text x="285.50" y="156.40" font-size="5.9" fill="#222" text-anchor="end" stroke="#222" stroke-width="0.20" stroke-linejoin="round">1.E+00</text>
<text x="285.50" y="140.69" font-size="5.9" fill="#222" text-anchor="end" stroke="#222" stroke-width="0.20" stroke-linejoin="round">1.E-01</text>
<text x="285.50" y="124.97" font-size="5.9" fill="#222" text-anchor="end" stroke="#222" stroke-width="0.20" stroke-linejoin="round">1.E-02</text>
<text x="285.50" y="109.26" font-size="5.9" fill="#222" text-anchor="end" stroke="#222" stroke-width="0.20" stroke-linejoin="round">1.E-03</text>
<text x="285.50" y="93.55" font-size="5.9" fill="#222" text-anchor="end" stroke="#222" stroke-width="0.20" stroke-linejoin="round">1.E-04</text>
<text x="285.50" y="77.84" font-size="5.9" fill="#222" text-anchor="end" stroke="#222" stroke-width="0.20" stroke-linejoin="round">1.E-05</text>
<text x="285.50" y="62.13" font-size="5.9" fill="#222" text-anchor="end" stroke="#222" stroke-width="0.20" stroke-linejoin="round">1.E-06</text>
<text x="285.50" y="46.41" font-size="5.9" fill="#222" text-anchor="end" stroke="#222" stroke-width="0.20" stroke-linejoin="round">1.E-07</text>
<text x="285.50" y="30.70" font-size="5.9" fill="#222" text-anchor="end" stroke="#222" stroke-width="0.20" stroke-linejoin="round">1.E-08</text>
<text x="291.50" y="165.90" font-size="5.9" fill="#222" text-anchor="middle" stroke="#222" stroke-width="0.20" stroke-linejoin="round">-8</text>
<text x="303.19" y="165.90" font-size="5.9" fill="#222" text-anchor="middle" stroke="#222" stroke-width="0.20" stroke-linejoin="round">-6</text>
<text x="314.88" y="165.90" font-size="5.9" fill="#222" text-anchor="middle" stroke="#222" stroke-width="0.20" stroke-linejoin="round">-4</text>
<text x="326.56" y="165.90" font-size="5.9" fill="#222" text-anchor="middle" stroke="#222" stroke-width="0.20" stroke-linejoin="round">-2</text>
<text x="338.25" y="165.90" font-size="5.9" fill="#222" text-anchor="middle" stroke="#222" stroke-width="0.20" stroke-linejoin="round">0</text>
<text x="349.94" y="165.90" font-size="5.9" fill="#222" text-anchor="middle" stroke="#222" stroke-width="0.20" stroke-linejoin="round">2</text>
<text x="361.62" y="165.90" font-size="5.9" fill="#222" text-anchor="middle" stroke="#222" stroke-width="0.20" stroke-linejoin="round">4</text>
<text x="373.31" y="165.90" font-size="5.9" fill="#222" text-anchor="middle" stroke="#222" stroke-width="0.20" stroke-linejoin="round">6</text>
<text x="385.00" y="165.90" font-size="5.9" fill="#222" text-anchor="middle" stroke="#222" stroke-width="0.20" stroke-linejoin="round">8</text>
<text transform="translate(338.25 177.60) scale(0.750 1)" font-size="7.4" fill="#1a1a1a" font-weight="bold" text-anchor="middle" stroke="#1a1a1a" stroke-width="0.12" stroke-linejoin="round">Log2 ratio (FC)</text>
<text x="338.25" y="23.50" font-size="8" fill="#111" text-anchor="middle" stroke="#111" stroke-width="0.20" stroke-linejoin="round">ED</text>
<text x="294.00" y="35.00" font-size="5.2" fill="#333" font-style="italic" stroke="#333" stroke-width="0.08" stroke-linejoin="round">1 genes</text>
<text x="383.00" y="35.00" font-size="5.2" fill="#333" font-style="italic" text-anchor="end" stroke="#333" stroke-width="0.08" stroke-linejoin="round">32 genes</text>
<text x="383.00" y="121.58" font-size="5.2" fill="#333" font-style="italic" text-anchor="end" stroke="#333" stroke-width="0.08" stroke-linejoin="round">5 genes</text>
<rect x="415.7" y="28.6" width="41.6" height="94.3" fill="#fef9f8"/>
<rect x="467.6" y="28.6" width="41.6" height="94.3" fill="#fef9f8"/>
<path d="M427.4 28.6V154.3M439.1 28.6V154.3M450.8 28.6V154.3M462.4 28.6V154.3M474.1 28.6V154.3M485.8 28.6V154.3M497.5 28.6V154.3M415.7 138.6H509.2M415.7 122.9H509.2M415.7 107.2H509.2M415.7 91.5H509.2M415.7 75.7H509.2M415.7 60H509.2M415.7 44.3H509.2" stroke="#e6e6e6" stroke-width="0.7" fill="none"/>
<path d="M459.7 122.9L459.6 123.9L459.5 124.9L459.3 125.9L459.2 126.9L459.1 127.9L458.9 128.9L458.8 129.9L458.8 130.9L458.8 131.9L458.9 132.9L458.9 133.9L458.9 134.9L458.9 135.9L459 136.9L459 137.9L459 138.9L459 139.9L459.2 140.9L459.3 141.9L459.4 142.9L459.6 143.9L459.7 144.9L459.9 145.9L460 146.9L460.1 147.9L460.4 148.9L460.6 149.9L460.8 150.9L461.1 151.9L461.5 152.9L461.9 153.5L463 153.5L463.4 152.9L463.8 151.9L464.1 150.9L464.3 149.9L464.5 148.9L464.8 147.9L464.9 146.9L465 145.9L465.2 144.9L465.3 143.9L465.5 142.9L465.6 141.9L465.7 140.9L465.9 139.9L465.9 138.9L465.9 137.9L465.9 136.9L466 135.9L466 134.9L466 133.9L466 132.9L466.1 131.9L466.1 130.9L466.1 129.9L466 128.9L465.8 127.9L465.7 126.9L465.6 125.9L465.4 124.9L465.3 123.9L465.2 122.9 Z" fill="#b0b0b0"/>
<path d="M462.7 123.5h0M460.7 123.1h0M459.9 123h0M459.8 123h0M462.5 123.6h0M461.8 123.9h0M463.5 123.8h0M460.1 124.2h0M463.1 123.7h0M460 123.7h0M460.2 124.7h0M465.2 124.3h0M461.8 124.6h0M464.9 124.4h0M461 124.5h0M463.5 125.6h0M462.1 125h0M463.7 125.5h0M463.4 125.2h0M464.4 125.4h0M463 125.4h0M462.2 126.3h0M463.6 125.9h0M464.4 126.3h0M459.6 125.8h0M460.7 125.7h0M464 126.2h0M465.6 126.6h0M460.5 126.5h0M461.4 127h0M463.1 126.4h0M462 126.4h0M463.2 126.5h0M463.4 127.7h0M463.2 127.3h0M463.4 127.3h0M459.2 127.3h0M463.7 127.5h0M460.4 127.7h0M461 128.5h0M460.8 127.8h0M462.5 128.4h0M463.1 128.2h0M462.4 128h0M461.1 128.1h0M465.5 128.6h0M460.7 129.2h0M463.5 128.6h0M462 129h0M465.3 128.6h0M465.2 129h0M462.7 129.8h0M460.6 129.7h0M462.9 129.3h0M460.8 129.5h0M459.9 129.9h0M460.7 129.4h0M463.1 129.6h0M461.2 130.2h0M465.4 130h0M465.5 130.6h0M463.8 130.5h0M461.6 130.6h0M464.2 130.4h0M462.1 130.1h0M464.2 130.6h0M461.1 131h0M460.3 130.7h0M460.2 130.6h0M459.7 130.9h0M462.5 131h0M459.7 131.9h0M463.4 131.8h0M463.8 131.5h0M463.1 131.5h0M463.6 131.9h0M458.9 131.9h0M459.7 131.3h0M462.9 132.6h0M465.5 132.1h0M461.9 132.7h0M465.3 132.6h0M460.6 132.2h0M459.9 132.2h0M461.8 132.6h0M460.1 132.8h0M462.1 133.3h0M462.3 133.3h0M463.8 133.3h0M462.4 133h0M462.1 133.3h0M460.3 134h0M462.3 133.8h0M460.1 133.4h0M460.5 133.7h0M459.1 133.6h0M465.6 133.7h0M458.9 134h0M460.1 134.5h0M463.6 134.3h0M463.9 134.7h0M461.3 134.4h0M458.9 134.5h0M461 134.6h0M464.3 134.3h0M465.6 134.9h0M464.6 135.1h0M465.6 134.9h0M461.6 134.9h0M460.7 135.4h0M462.7 135.1h0M459.3 135.5h0M464.3 135.9h0M464.8 135.8h0M465.6 135.7h0M460.5 136.1h0M462.7 135.5h0M459.1 136.7h0M463.4 136.3h0M464.5 136.7h0M463.4 136.6h0M462 136.7h0M461.7 136.8h0M463.1 136.7h0M465.8 137.3h0M459.7 137.3h0M465.4 137h0M460.7 137.1h0M460.6 137.5h0M462.7 137h0M463.8 137.6h0M460.3 137.6h0M463.8 137.9h0M459.1 137.8h0M460.3 138h0M461.9 137.9h0M459.3 138.5h0M463.4 138.7h0M463.1 138.4h0M459.3 138.8h0M463.9 138.8h0M465.6 138.5h0M461 139.4h0M465.2 139.3h0M463.2 139.7h0M462.4 139.2h0M465.6 139.5h0M461.3 139.2h0M459.6 140.4h0M462.9 140.2h0M460.7 140.3h0M463.9 140.3h0M462.3 140.3h0M462.9 139.8h0M465.2 139.9h0M462.8 140.7h0M462.6 140.7h0M459.6 140.4h0M459.7 141h0M461.4 140.4h0M461.8 140.8h0M465.1 141.3h0M465.4 141.1h0M460.2 141.4h0M463.4 141.4h0M464.3 141.5h0M459.2 141.4h0M460.9 141.9h0M463.4 142.1h0M465.5 142.5h0M461.2 141.8h0M460.4 142.1h0M462 142.1h0M461.2 142.8h0M464 142.6h0M463.3 142.8h0M464.1 143h0M460.6 143h0M461.6 143.1h0M461.3 143.6h0M461.2 143.5h0M462.9 143.4h0M464.6 143.4h0M463.6 143.9h0M460.1 143.8h0M462.2 144h0M464.9 144.1h0M462.5 144.6h0M460.4 144h0M463.6 143.9h0M460.3 144.1h0M461.6 144.6h0M464.8 145h0M459.8 145.1h0M461 145.2h0M459.9 144.7h0M461.7 145.2h0M464.9 145.4h0M461.8 145.9h0M464.1 146h0M460.2 145.3h0M464.2 146.5h0M462 146.5h0M462.2 146.6h0M461.4 146.5h0M460.7 146.4h0M461.6 146.9h0M460.1 146.8h0M463.3 147.2h0M463.2 147h0M462.9 147.3h0M461.9 147.9h0M463.9 148h0M463.3 147.6h0M463.9 147.8h0M463.6 148.2h0M460.5 148.6h0M463.2 148.1h0M460.4 148.4h0M460.9 149.3h0M461.8 149.3h0M461.5 149h0M461 149.3h0M460.8 149.6h0M463.8 149.7h0M464.1 150.2h0M461.2 150.3h0M463.6 150.5h0M460.8 150.3h0M461.6 150.9h0M463.2 150.9h0M461.8 151.4h0M463.3 151.8h0M461.5 152h0M463 152.8h0M462.2 152.8h0M462.6 153.1h0M462 153.7h0M461.6 123.6h0M464 123.2h0M462.9 123.2h0M463.2 123.9h0M465.3 124.2h0M465.6 124.3h0M465 124.6h0M462.4 124.9h0M462 125.2h0M463.7 125.5h0M463.7 125.1h0M462.4 125.8h0M460.3 125.8h0M459.9 126.1h0M463.9 127.1h0M466.1 126.8h0M465.1 127h0M465.1 127.5h0M464.4 127.7h0M465.6 127.5h0M459 128.3h0M463.3 128.4h0M459.9 128.4h0M466.3 128.1h0M464 128.6h0M464.8 129.1h0M461.5 129.1h0M461.4 129.1h0M464.3 129.3h0M461.1 129.5h0M465.7 129.8h0M459.1 129.5h0M466.6 130.2h0M459.5 130.4h0M459.8 130.3h0M458.7 130.6h0M461.7 130.6h0M463.6 131.1h0M464.4 131h0M465.6 131.5h0M463.3 131.4h0M464 132h0M464 132.1h0M466.7 132h0M460.3 132.3h0M464.7 132.4h0M463.6 132.8h0M461.1 133.4h0M462.6 132.7h0M460.2 132.9h0M464.6 133.6h0M463.9 133.8h0M465.6 133.6h0M458.3 133.8h0M458.6 134.4h0M459.5 134.8h0M462.9 134.7h0M463.3 135.4h0M458.5 135h0M463.8 135h0M460.8 136h0M462.7 135.9h0M465.4 136.2h0M461.1 136.6h0M459.5 136.7h0M463.4 136.5h0M461.4 137h0M462.1 137.4h0M459 137.1h0M464.6 137.9h0M465.5 137.9h0M459.8 137.8h0M458.6 137.9h0M461.6 138.8h0M463.2 138.5h0M464 138.4h0M461.7 139.5h0M465.2 139.3h0M459.2 139.5h0M459 139.8h0M464.8 140h0M464.1 140.1h0M463.2 139.7h0M462 140.5h0M462.9 141h0M462.2 140.9h0M459.9 141.3h0M458.9 141.5h0M458.7 141.4h0M463.8 141.2h0M463.1 142.3h0M464.1 142.2h0M461.6 142.2h0M461.5 142.5h0M465.6 142.7h0M465.5 143.2h0M465.3 143.4h0M465 143.7h0M460.9 143.8h0M465.2 144.3h0M465.7 144.2h0M463.8 144.1h0M459.4 145.1h0M465.5 144.9h0M459.6 144.7h0M464 145.5h0M462.2 145.9h0M463.6 145.3h0M463.6 146.1h0M459.7 146.6h0M462.5 146.9h0M463.8 147h0M463.5 147.3h0M461.7 147.9h0M464.3 148h0M461.9 147.9h0M464.3 148.2h0M460.2 148.2h0M463.6 149.2h0M461.4 148.8h0M464.6 149.6h0M464.3 149.8h0M461.9 150.9h0M463.7 150.7h0M462.8 151.1h0M462.9 151.5h0M462.3 151.9h0M462.5 152.3h0M462.3 152.4h0M463.2 153.4h0M464.9 90h0M461.7 91h0M460.5 92.3h0M463.1 93.5h0M460.4 94.4h0M460.6 94.8h0M460.1 96.2h0M463.7 99h0M459.4 100.1h0M460.5 101.5h0M462.1 101.7h0M460.7 102.6h0M460.5 103.3h0M459.8 104.2h0M462.8 105.2h0M465.2 104.8h0M460 105.9h0M464.9 107.1h0M460.1 107.5h0M461.3 107.7h0M463 108h0M461.3 108.4h0M463.9 109.4h0M463.3 109.2h0M462.5 110.3h0M465.8 109.8h0M464.2 110.8h0M462.1 111h0M462.6 111.2h0M463.1 111.4h0M463 112.2h0M464.3 112.3h0M464.9 112h0M463.7 112.8h0M460.9 113.5h0M464.6 112.8h0M462 113.9h0M464.5 113.7h0M463.3 113.8h0M465.4 115.1h0M460.3 114.5h0M462 114.5h0M462.8 115.8h0M463 116h0M464.2 116h0M463.3 115.5h0M463.1 116.5h0M460 116.1h0M459 116.1h0M460.9 116.3h0M461.7 117.1h0M462 117.3h0M464.9 117.6h0M460.5 117.1h0M463.4 117.9h0M460.3 118.3h0M461.3 118.2h0M463.5 117.6h0M460.8 118h0M465.8 118.6h0M459.4 119.1h0M465.4 118.5h0M461.7 118.6h0M460.9 118.7h0M461.9 119.4h0M460.8 119.7h0M462.2 119.6h0M460.1 119.6h0M464.8 119.4h0M460 119.5h0M460.6 120.2h0M465.6 120.5h0M462 120.5h0M462.1 120.5h0M463.5 120.2h0M461.2 120.8h0M464.4 120.4h0M461.1 120.9h0M464.6 121.1h0M462.6 121.5h0M463.3 121.2h0M462.7 121h0M464.3 121h0M464.2 121.4h0M463.4 121.7h0M465.6 122h0M465.6 121.9h0M464.9 121.9h0M461.7 121.8h0M464.5 122h0M461 121.6h0M458.9 122.7h0M460.8 123h0M460.3 123h0M464.9 122.8h0M463.2 122.8h0M462.7 122.8h0M459.8 122.5h0M464.8 85.5h0M464.5 41h0M462.5 73h0M465.5 67h0" stroke="#b0b0b0" stroke-width="1.4" stroke-linecap="round" fill="none"/>
<path d="" stroke="#c0221c" stroke-width="1.9" stroke-linecap="round" fill="none"/>
<path d="" stroke="#1f2d8f" stroke-width="2.4" stroke-linecap="round" fill="none"/>
<rect x="415.7" y="28.6" width="93.5" height="125.7" fill="none" stroke="#3a3a3a" stroke-width="1.1"/>
<path d="M412.9 154.3H415.7M412.9 138.6H415.7M412.9 122.9H415.7M412.9 107.2H415.7M412.9 91.5H415.7M412.9 75.7H415.7M412.9 60H415.7M412.9 44.3H415.7M412.9 28.6H415.7M415.7 154.3V157.5M427.4 154.3V157.5M439.1 154.3V157.5M450.8 154.3V157.5M462.4 154.3V157.5M474.1 154.3V157.5M485.8 154.3V157.5M497.5 154.3V157.5M509.2 154.3V157.5" stroke="#2a2a2a" stroke-width="1.15" fill="none"/>
<rect x="415.7" y="28.6" width="41.6" height="94.3" fill="none" stroke="#da5d44" stroke-width="1.55"/>
<rect x="467.6" y="28.6" width="41.6" height="94.3" fill="none" stroke="#da5d44" stroke-width="1.55"/>
<path d="M458 28.8H466.9" stroke="#5c5c5c" stroke-width="1.8"/>
<text x="409.70" y="156.40" font-size="5.9" fill="#222" text-anchor="end" stroke="#222" stroke-width="0.20" stroke-linejoin="round">1.E+00</text>
<text x="409.70" y="140.69" font-size="5.9" fill="#222" text-anchor="end" stroke="#222" stroke-width="0.20" stroke-linejoin="round">1.E-01</text>
<text x="409.70" y="124.97" font-size="5.9" fill="#222" text-anchor="end" stroke="#222" stroke-width="0.20" stroke-linejoin="round">1.E-02</text>
<text x="409.70" y="109.26" font-size="5.9" fill="#222" text-anchor="end" stroke="#222" stroke-width="0.20" stroke-linejoin="round">1.E-03</text>
<text x="409.70" y="93.55" font-size="5.9" fill="#222" text-anchor="end" stroke="#222" stroke-width="0.20" stroke-linejoin="round">1.E-04</text>
<text x="409.70" y="77.84" font-size="5.9" fill="#222" text-anchor="end" stroke="#222" stroke-width="0.20" stroke-linejoin="round">1.E-05</text>
<text x="409.70" y="62.13" font-size="5.9" fill="#222" text-anchor="end" stroke="#222" stroke-width="0.20" stroke-linejoin="round">1.E-06</text>
<text x="409.70" y="46.41" font-size="5.9" fill="#222" text-anchor="end" stroke="#222" stroke-width="0.20" stroke-linejoin="round">1.E-07</text>
<text x="409.70" y="30.70" font-size="5.9" fill="#222" text-anchor="end" stroke="#222" stroke-width="0.20" stroke-linejoin="round">1.E-08</text>
<text x="415.70" y="165.90" font-size="5.9" fill="#222" text-anchor="middle" stroke="#222" stroke-width="0.20" stroke-linejoin="round">-8</text>
<text x="427.39" y="165.90" font-size="5.9" fill="#222" text-anchor="middle" stroke="#222" stroke-width="0.20" stroke-linejoin="round">-6</text>
<text x="439.07" y="165.90" font-size="5.9" fill="#222" text-anchor="middle" stroke="#222" stroke-width="0.20" stroke-linejoin="round">-4</text>
<text x="450.76" y="165.90" font-size="5.9" fill="#222" text-anchor="middle" stroke="#222" stroke-width="0.20" stroke-linejoin="round">-2</text>
<text x="462.45" y="165.90" font-size="5.9" fill="#222" text-anchor="middle" stroke="#222" stroke-width="0.20" stroke-linejoin="round">0</text>
<text x="474.14" y="165.90" font-size="5.9" fill="#222" text-anchor="middle" stroke="#222" stroke-width="0.20" stroke-linejoin="round">2</text>
<text x="485.82" y="165.90" font-size="5.9" fill="#222" text-anchor="middle" stroke="#222" stroke-width="0.20" stroke-linejoin="round">4</text>
<text x="497.51" y="165.90" font-size="5.9" fill="#222" text-anchor="middle" stroke="#222" stroke-width="0.20" stroke-linejoin="round">6</text>
<text x="509.20" y="165.90" font-size="5.9" fill="#222" text-anchor="middle" stroke="#222" stroke-width="0.20" stroke-linejoin="round">8</text>
<text transform="translate(462.45 177.60) scale(0.750 1)" font-size="7.4" fill="#1a1a1a" font-weight="bold" text-anchor="middle" stroke="#1a1a1a" stroke-width="0.12" stroke-linejoin="round">Log2 ratio (FC)</text>
<text x="462.45" y="23.50" font-size="8" fill="#111" text-anchor="middle" stroke="#111" stroke-width="0.20" stroke-linejoin="round">OATL4</text>
<text x="418.20" y="35.00" font-size="5.2" fill="#333" font-style="italic" stroke="#333" stroke-width="0.08" stroke-linejoin="round">0 genes</text>
<text x="507.20" y="35.00" font-size="5.2" fill="#333" font-style="italic" text-anchor="end" stroke="#333" stroke-width="0.08" stroke-linejoin="round">0 genes</text>
<text transform="translate(14.0 101.3) rotate(-90) scale(0.77 1)" font-size="7.3" fill="#222" stroke="#222" stroke-width="0.2" stroke-linejoin="round"><tspan font-style="italic">P</tspan>-value</text>
<path d="M42.8 187.1H186.9M241.2 187.1H385M416.1 187.1H435.7M489.8 187.1H509.2" stroke="#333" stroke-width="1.3"/>
<text x="213.90" y="189.70" font-size="7.7" fill="#222" text-anchor="middle" stroke="#222" stroke-width="0.20" stroke-linejoin="round">sensitive</text>
<text x="462.50" y="189.70" font-size="7.7" fill="#222" text-anchor="middle" stroke="#222" stroke-width="0.20" stroke-linejoin="round">resistant</text>
<text x="6.60" y="16.80" font-size="11.2" fill="#111" font-weight="bold" stroke="#111" stroke-width="0.30" stroke-linejoin="round">A</text>
<text x="7.00" y="217.00" font-size="11" fill="#111" font-weight="bold" stroke="#111" stroke-width="0.30" stroke-linejoin="round">B</text>
<ellipse cx="96.5" cy="265.6" rx="45.2" ry="40.8" fill="#2b4b91" fill-opacity="0.5" stroke="#2b4b91" stroke-width="1.2"/>
<ellipse cx="137.4" cy="266.1" rx="45.1" ry="40.6" fill="#b30131" fill-opacity="0.5" stroke="#b30131" stroke-width="1.2"/>
<ellipse cx="116.7" cy="302.3" rx="44.8" ry="41.0" fill="#6ba941" fill-opacity="0.5" stroke="#6ba941" stroke-width="1.2"/>
<text x="72.60" y="260.10" font-size="8.4" fill="#111" text-anchor="middle" stroke="#111" stroke-width="0.20" stroke-linejoin="round">254</text>
<text x="117.50" y="252.70" font-size="8.4" fill="#111" text-anchor="middle" stroke="#111" stroke-width="0.20" stroke-linejoin="round">10</text>
<text x="156.80" y="260.20" font-size="8.4" fill="#111" text-anchor="middle" stroke="#111" stroke-width="0.20" stroke-linejoin="round">1</text>
<text x="116.70" y="279.60" font-size="8.4" fill="#111" text-anchor="middle" stroke="#111" stroke-width="0.20" stroke-linejoin="round">19</text>
<text x="88.00" y="299.10" font-size="8.4" fill="#111" text-anchor="middle" stroke="#111" stroke-width="0.20" stroke-linejoin="round">76</text>
<text x="142.10" y="299.10" font-size="8.4" fill="#111" text-anchor="middle" stroke="#111" stroke-width="0.20" stroke-linejoin="round">2</text>
<text x="115.40" y="325.80" font-size="8.4" fill="#111" text-anchor="middle" stroke="#111" stroke-width="0.20" stroke-linejoin="round">116</text>
<text x="70.00" y="224.60" font-size="8.1" fill="#222" text-anchor="middle" stroke="#222" stroke-width="0.20" stroke-linejoin="round">SLB-1</text>
<text x="157.00" y="224.50" font-size="7.9" fill="#222" text-anchor="middle" stroke="#222" stroke-width="0.20" stroke-linejoin="round">ED</text>
<text x="115.60" y="352.60" font-size="7.8" fill="#222" text-anchor="middle" stroke="#222" stroke-width="0.20" stroke-linejoin="round">KK1</text>
<path d="M56.3 299.6L79.1 295.8M126.1 277L189.1 268.3M126.8 322.4L165 326.6" stroke="#1a1a1a" stroke-width="1.15" fill="none"/>
<rect x="14.6" y="288.6" width="41.1" height="61.9" fill="#fff" stroke="#222" stroke-width="1.15" stroke-linejoin="round"/>
<rect x="189" y="237.6" width="48" height="61.3" fill="#fff" stroke="#222" stroke-width="1.15" stroke-linejoin="round"/>
<rect x="165" y="312" width="43.6" height="28.5" fill="#fff" stroke="#222" stroke-width="1.15" stroke-linejoin="round"/>
<text x="20.80" y="302.10" font-size="8.4" fill="#222" font-style="italic" stroke="#222" stroke-width="0.16" stroke-linejoin="round">CHAC1</text>
<text x="20.80" y="312.05" font-size="8.4" fill="#222" font-style="italic" stroke="#222" stroke-width="0.16" stroke-linejoin="round">TRIB3</text>
<text x="20.80" y="322.00" font-size="8.4" fill="#222" font-style="italic" stroke="#222" stroke-width="0.16" stroke-linejoin="round">CHOP</text>
<text x="20.80" y="331.95" font-size="8.4" fill="#222" font-style="italic" stroke="#222" stroke-width="0.16" stroke-linejoin="round">ASNS</text>
<text x="20.80" y="341.90" font-size="8.4" fill="#222" font-style="italic" stroke="#222" stroke-width="0.16" stroke-linejoin="round">XBP1</text>
<text x="195.90" y="251.30" font-size="8.4" fill="#222" font-style="italic" stroke="#222" stroke-width="0.16" stroke-linejoin="round">ATF3</text>
<text x="195.90" y="261.25" font-size="8.4" fill="#222" font-style="italic" stroke="#222" stroke-width="0.16" stroke-linejoin="round">IRE1</text>
<text x="195.90" y="271.20" font-size="8.4" fill="#222" font-style="italic" stroke="#222" stroke-width="0.16" stroke-linejoin="round">ATF4</text>
<text x="195.90" y="281.15" font-size="8.4" fill="#222" font-style="italic" stroke="#222" stroke-width="0.16" stroke-linejoin="round">GADD34</text>
<text x="195.90" y="291.10" font-size="8.4" fill="#222" font-style="italic" stroke="#222" stroke-width="0.16" stroke-linejoin="round">ERDJ4</text>
<text x="172.60" y="323.90" font-size="8.4" fill="#222" font-style="italic" stroke="#222" stroke-width="0.16" stroke-linejoin="round">WARS</text>
<text x="172.60" y="333.85" font-size="8.4" fill="#222" font-style="italic" stroke="#222" stroke-width="0.16" stroke-linejoin="round">EDEM1</text>
<rect x="0.5" y="0.5" width="519" height="360" fill="none" stroke="#111" stroke-width="1"/>
</svg>
</body></html>
